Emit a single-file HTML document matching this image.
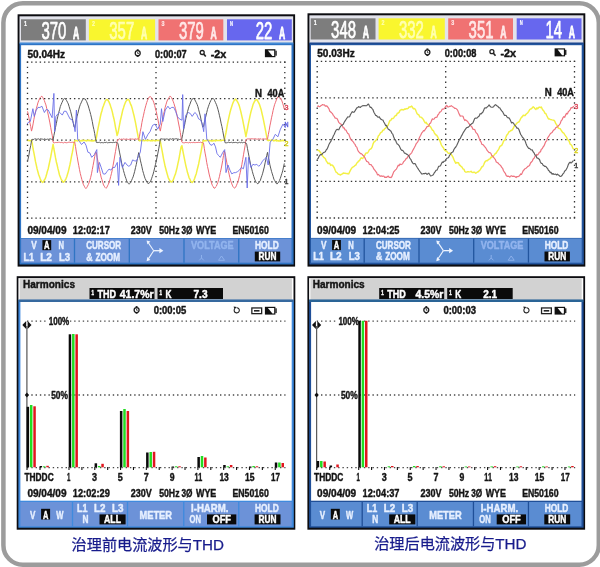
<!DOCTYPE html>
<html><head><meta charset="utf-8"><title>Harmonics</title>
<style>html,body{margin:0;padding:0;background:#fff;overflow:hidden}svg{display:block}</style></head>
<body>
<svg width="600" height="567" viewBox="0 0 600 567" font-family="'Liberation Sans', sans-serif">
<rect x="0.00" y="0.00" width="600.00" height="567.00" fill="#ffffff" />
<rect x="3.4" y="3.2" width="595.4" height="561.5" rx="19.5" ry="19.5" fill="#ffffff" stroke="#9c9c9c" stroke-width="4.5"/>
<rect x="17.60" y="14.30" width="277.50" height="252.30" fill="#0c0c10" />
<rect x="19.50" y="16.30" width="273.70" height="26.90" fill="#e2e3eb" />
<rect x="19.50" y="42.70" width="274.10" height="221.80" fill="#2f74c4" />
<rect x="19.50" y="42.70" width="273.70" height="1.00" fill="#4a94e0" />
<rect x="21.10" y="45.20" width="270.40" height="192.80" fill="#ffffff" />
<rect x="21.00" y="19.30" width="64.80" height="21.10" fill="#7d7d7d" />
<text x="41.40" y="39.00" font-size="24.6" font-weight="normal" fill="#ffffff" textLength="24.90" lengthAdjust="spacingAndGlyphs" stroke="#ffffff" stroke-width="0.75" stroke-linejoin="round" >370</text>
<text x="73.00" y="39.00" font-size="16.6" font-weight="bold" fill="#ffffff" textLength="6.20" lengthAdjust="spacingAndGlyphs" stroke="#ffffff" stroke-width="0.8" stroke-linejoin="round" >A</text>
<text x="24.00" y="25.60" font-size="7.5" font-weight="bold" fill="#ffffff" textLength="3.00" lengthAdjust="spacingAndGlyphs" stroke="#ffffff" stroke-width="0.2" stroke-linejoin="round" >1</text>
<rect x="88.90" y="19.30" width="66.20" height="21.10" fill="#f9f62e" />
<text x="109.30" y="39.00" font-size="24.6" font-weight="normal" fill="#ffffb0" textLength="24.90" lengthAdjust="spacingAndGlyphs" stroke="#ffffb0" stroke-width="0.75" stroke-linejoin="round" >357</text>
<text x="140.90" y="39.00" font-size="16.6" font-weight="bold" fill="#ffffb0" textLength="6.20" lengthAdjust="spacingAndGlyphs" stroke="#ffffb0" stroke-width="0.8" stroke-linejoin="round" >A</text>
<text x="91.90" y="25.60" font-size="7.5" font-weight="bold" fill="#ffffb0" textLength="3.00" lengthAdjust="spacingAndGlyphs" stroke="#ffffb0" stroke-width="0.2" stroke-linejoin="round" >2</text>
<rect x="158.50" y="19.30" width="64.80" height="21.10" fill="#f07272" />
<text x="178.90" y="39.00" font-size="24.6" font-weight="normal" fill="#ffe8e8" textLength="24.90" lengthAdjust="spacingAndGlyphs" stroke="#ffe8e8" stroke-width="0.75" stroke-linejoin="round" >379</text>
<text x="210.50" y="39.00" font-size="16.6" font-weight="bold" fill="#ffe8e8" textLength="6.20" lengthAdjust="spacingAndGlyphs" stroke="#ffe8e8" stroke-width="0.8" stroke-linejoin="round" >A</text>
<text x="161.50" y="25.60" font-size="7.5" font-weight="bold" fill="#ffe8e8" textLength="3.00" lengthAdjust="spacingAndGlyphs" stroke="#ffe8e8" stroke-width="0.2" stroke-linejoin="round" >3</text>
<rect x="227.00" y="19.30" width="64.80" height="21.10" fill="#6767ee" />
<text x="255.70" y="39.00" font-size="24.6" font-weight="normal" fill="#ffffff" textLength="16.60" lengthAdjust="spacingAndGlyphs" stroke="#ffffff" stroke-width="0.75" stroke-linejoin="round" >22</text>
<text x="279.00" y="39.00" font-size="16.6" font-weight="bold" fill="#ffffff" textLength="6.20" lengthAdjust="spacingAndGlyphs" stroke="#ffffff" stroke-width="0.8" stroke-linejoin="round" >A</text>
<text x="230.00" y="25.60" font-size="7.5" font-weight="bold" fill="#ffffff" textLength="3.00" lengthAdjust="spacingAndGlyphs" stroke="#ffffff" stroke-width="0.2" stroke-linejoin="round" >N</text>
<text x="27.50" y="58.00" font-size="11.2" font-weight="bold" fill="#151515" textLength="37.50" lengthAdjust="spacingAndGlyphs" stroke="#151515" stroke-width="0.45" stroke-linejoin="round" >50.04Hz</text>
<circle cx="137.70" cy="53.20" r="2.5" fill="#fff" stroke="#1a1a1a" stroke-width="1.25"/>
<rect x="136.75" y="49.30" width="1.90" height="1.30" fill="#1a1a1a" />
<rect x="136.75" y="55.80" width="1.90" height="1.10" fill="#1a1a1a" />
<path d="M137.70 51.90 V53.50 H138.80" stroke="#1a1a1a" stroke-width="0.8" fill="none"/>
<text x="155.00" y="58.00" font-size="11.2" font-weight="bold" fill="#151515" textLength="31.70" lengthAdjust="spacingAndGlyphs" stroke="#151515" stroke-width="0.45" stroke-linejoin="round" >0:00:07</text>
<circle cx="202.20" cy="52.50" r="2.0" fill="none" stroke="#222" stroke-width="1.3"/>
<line x1="203.70" y1="54.10" x2="205.80" y2="56.50" stroke="#222" stroke-width="1.6" />
<text x="210.70" y="58.00" font-size="11.2" font-weight="bold" fill="#151515" textLength="15.60" lengthAdjust="spacingAndGlyphs" stroke="#151515" stroke-width="0.45" stroke-linejoin="round" >-2x</text>
<rect x="264.90" y="49.20" width="10.50" height="8.00" fill="#111" />
<rect x="275.40" y="50.70" width="1.30" height="5.00" fill="#111" />
<polygon points="267.90,50.40 274.20,50.40 274.20,56.00 272.40,56.00" fill="#fff"/>
<line x1="26.80" y1="62.20" x2="285.50" y2="62.20" stroke="#333" stroke-width="1.3" stroke-dasharray="1.4 2.888"/>
<line x1="26.80" y1="98.60" x2="285.50" y2="98.60" stroke="#333" stroke-width="1.3" stroke-dasharray="1.4 2.888"/>
<line x1="26.80" y1="140.20" x2="285.50" y2="140.20" stroke="#333" stroke-width="1.3" stroke-dasharray="1.4 2.888"/>
<line x1="26.80" y1="181.80" x2="285.50" y2="181.80" stroke="#333" stroke-width="1.3" stroke-dasharray="1.4 2.888"/>
<line x1="26.80" y1="218.20" x2="285.50" y2="218.20" stroke="#333" stroke-width="1.3" stroke-dasharray="1.4 2.888"/>
<line x1="27.50" y1="61.50" x2="27.50" y2="218.90" stroke="#333" stroke-width="1.3" stroke-dasharray="1.4 3.8"/>
<line x1="156.00" y1="61.50" x2="156.00" y2="218.90" stroke="#333" stroke-width="1.3" stroke-dasharray="1.4 3.8"/>
<line x1="284.80" y1="61.50" x2="284.80" y2="218.90" stroke="#333" stroke-width="1.3" stroke-dasharray="1.4 3.8"/>
<g transform="translate(0.00,0.00)">
<polyline points="27.5,140.4 28.3,140.6 29.1,140.5 29.9,140.7 30.7,140.7 31.5,140.3 32.3,143.9 33.1,149.0 33.9,152.9 34.7,157.1 35.5,161.7 36.3,165.1 37.1,168.9 37.9,171.8 38.7,174.7 39.5,176.7 40.3,179.1 41.1,180.9 41.9,181.7 42.7,182.5 43.5,181.7 44.3,180.0 45.1,178.9 45.9,176.7 46.7,174.0 47.5,170.9 48.3,168.4 49.1,164.5 49.9,160.9 50.7,157.0 51.5,152.6 52.3,148.4 53.1,144.2 53.9,149.0 54.7,153.1 55.5,157.7 56.3,161.7 57.1,164.8 57.9,168.4 58.7,171.6 59.5,175.0 60.3,177.0 61.1,179.1 61.9,180.4 62.7,181.7 63.5,182.2 64.3,181.4 65.1,180.4 65.9,178.8 66.7,177.0 67.5,174.3 68.3,171.6 69.1,168.3 69.9,164.9 70.7,160.8 71.5,156.4 72.3,152.7 73.1,148.4 73.9,143.8 74.7,140.7 75.5,140.8 76.3,140.4 77.1,140.9 77.9,140.7 78.7,140.4 79.5,140.3 80.3,140.9 81.1,141.0 81.9,140.3 82.7,140.8 83.5,140.5 84.3,140.3 85.1,140.4 85.9,140.8 86.7,140.9 87.5,140.2 88.3,140.7 89.1,140.2 89.9,140.8 90.7,140.5 91.5,140.9 92.3,141.0 93.1,140.6 93.9,141.0 94.7,140.4 95.5,140.3 96.3,138.2 97.1,133.3 97.9,129.2 98.7,125.1 99.5,121.3 100.3,117.2 101.1,113.5 101.9,111.0 102.7,107.7 103.5,105.7 104.3,103.5 105.1,101.4 105.9,100.2 106.7,99.5 107.5,99.8 108.3,100.8 109.1,102.2 109.9,104.1 110.7,106.6 111.5,108.9 112.3,111.9 113.1,115.5 113.9,118.7 114.7,122.6 115.5,127.3 116.3,131.1 117.1,135.5 117.9,133.3 118.7,129.3 119.5,125.2 120.3,120.8 121.1,117.5 121.9,114.0 122.7,110.3 123.5,107.9 124.3,105.2 125.1,103.3 125.9,101.4 126.7,100.4 127.5,99.6 128.3,99.4 129.1,100.4 129.9,102.3 130.7,104.4 131.5,106.1 132.3,108.9 133.1,112.1 133.9,115.2 134.7,118.9 135.5,122.7 136.3,126.8 137.1,131.3 137.9,135.4 138.7,139.8 139.5,140.8 140.3,140.2 141.1,140.7 141.9,140.8 142.7,140.4 143.5,140.4 144.3,140.8 145.1,140.4 145.9,140.3 146.7,140.5 147.5,140.8 148.3,140.3 149.1,140.5 149.9,140.5 150.7,140.9 151.5,140.6 152.3,140.9 153.1,140.3 153.9,140.5 154.7,140.7 155.5,140.9 156.3,140.6 157.1,140.4 157.9,140.3 158.7,140.6 159.5,140.4 160.3,141.1 161.1,145.6 161.9,149.6 162.7,154.0 163.5,158.6 164.3,162.4 165.1,166.3 165.9,169.3 166.7,172.2 167.5,175.1 168.3,177.8 169.1,179.3 169.9,180.8 170.7,181.8 171.5,182.1 172.3,181.2 173.1,180.3 173.9,178.0 174.7,175.7 175.5,173.9 176.3,170.8 177.1,167.6 177.9,163.6 178.7,160.1 179.5,156.0 180.3,151.1 181.1,147.1 181.9,145.7 182.7,150.0 183.5,154.2 184.3,158.2 185.1,162.2 185.9,165.8 186.7,169.1 187.5,172.6 188.3,175.1 189.1,177.8 189.9,179.1 190.7,181.2 191.5,182.1 192.3,182.5 193.1,181.6 193.9,180.3 194.7,178.3 195.5,175.7 196.3,173.7 197.1,170.2 197.9,167.0 198.7,163.7 199.5,159.7 200.3,155.5 201.1,151.6 201.9,147.0 202.7,142.2 203.5,140.4 204.3,140.9 205.1,140.6 205.9,140.8 206.7,140.5 207.5,140.4 208.3,140.6 209.1,140.9 209.9,140.3 210.7,140.8 211.5,140.9 212.3,140.8 213.1,140.9 213.9,140.2 214.7,140.7 215.5,140.9 216.3,140.2 217.1,140.4 217.9,140.4 218.7,140.6 219.5,140.5 220.3,140.6 221.1,140.8 221.9,140.2 222.7,140.2 223.5,140.3 224.3,140.3 225.1,136.6 225.9,133.0 226.7,128.6 227.5,123.9 228.3,120.2 229.1,116.4 229.9,112.9 230.7,109.8 231.5,107.3 232.3,104.8 233.1,102.6 233.9,100.9 234.7,99.9 235.5,99.0 236.3,100.0 237.1,101.2 237.9,102.5 238.7,104.2 239.5,106.6 240.3,109.6 241.1,112.8 241.9,116.4 242.7,119.8 243.5,124.1 244.3,128.0 245.1,132.2 245.9,136.5 246.7,132.6 247.5,128.5 248.3,124.1 249.1,120.4 249.9,116.4 250.7,112.8 251.5,109.9 252.3,107.3 253.1,104.4 253.9,102.7 254.7,101.1 255.5,100.3 256.3,99.7 257.1,99.8 257.9,101.4 258.7,102.8 259.5,104.4 260.3,106.9 261.1,109.4 261.9,113.0 262.7,116.4 263.5,120.2 264.3,124.1 265.1,128.1 265.9,132.4 266.7,136.7 267.5,140.3 268.3,140.7 269.1,140.2 269.9,140.3 270.7,140.8 271.5,140.2 272.3,140.3 273.1,140.3 273.9,140.9 274.7,140.3 275.5,140.2 276.3,140.9 277.1,140.3 277.9,140.9 278.7,140.7 279.5,140.9 280.3,141.0 281.1,140.7 281.9,140.8 282.7,140.2 283.5,140.8 284.3,140.6" fill="none" stroke="#f3f045" stroke-width="1.5" stroke-linejoin="round" />
<polyline points="27.5,111.3 28.3,114.4 29.1,118.7 29.9,122.9 30.7,126.5 31.5,131.1 32.3,128.0 33.1,123.9 33.9,119.3 34.7,115.4 35.5,111.8 36.3,108.7 37.1,105.9 37.9,102.9 38.7,100.7 39.5,98.9 40.3,97.5 41.1,96.6 41.9,96.2 42.7,97.4 43.5,99.1 44.3,100.4 45.1,102.8 45.9,104.9 46.7,108.3 47.5,111.6 48.3,115.1 49.1,118.9 49.9,122.9 50.7,127.3 51.5,131.9 52.3,135.8 53.1,142.2 53.9,142.7 54.7,142.8 55.5,142.5 56.3,142.5 57.1,142.7 57.9,142.2 58.7,142.3 59.5,142.3 60.3,142.6 61.1,142.4 61.9,142.3 62.7,142.7 63.5,142.9 64.3,142.3 65.1,142.7 65.9,142.4 66.7,142.8 67.5,142.6 68.3,142.3 69.1,142.3 69.9,142.1 70.7,142.5 71.5,142.4 72.3,142.2 73.1,142.4 73.9,142.4 74.7,142.0 75.5,146.4 76.3,152.0 77.1,156.3 77.9,161.0 78.7,165.3 79.5,169.7 80.3,173.5 81.1,176.7 81.9,179.7 82.7,182.5 83.5,184.8 84.3,186.2 85.1,187.7 85.9,188.6 86.7,187.6 87.5,186.2 88.3,184.5 89.1,182.7 89.9,180.1 90.7,177.3 91.5,173.8 92.3,169.5 93.1,165.4 93.9,161.1 94.7,156.5 95.5,152.2 96.3,152.3 97.1,157.1 97.9,161.1 98.7,166.0 99.5,169.6 100.3,173.4 101.1,177.1 101.9,179.6 102.7,182.2 103.5,185.0 104.3,186.2 105.1,187.5 105.9,188.3 106.7,187.7 107.5,185.9 108.3,184.4 109.1,182.3 109.9,179.7 110.7,176.4 111.5,173.3 112.3,169.8 113.1,165.2 113.9,161.0 114.7,156.0 115.5,151.4 116.3,146.8 117.1,141.4 117.9,139.4 118.7,139.4 119.5,138.8 120.3,139.5 121.1,139.0 121.9,139.3 122.7,139.3 123.5,138.9 124.3,139.2 125.1,139.2 125.9,139.3 126.7,138.9 127.5,139.3 128.3,139.5 129.1,139.2 129.9,139.1 130.7,138.8 131.5,139.1 132.3,139.0 133.1,139.3 133.9,139.2 134.7,139.2 135.5,138.8 136.3,139.2 137.1,139.2 137.9,138.8 138.7,139.4 139.5,136.3 140.3,131.3 141.1,127.6 141.9,122.6 142.7,118.7 143.5,115.2 144.3,111.5 145.1,108.2 145.9,105.3 146.7,102.6 147.5,100.3 148.3,98.5 149.1,97.1 149.9,96.7 150.7,96.8 151.5,97.6 152.3,99.2 153.1,100.7 153.9,102.8 154.7,105.6 155.5,108.9 156.3,111.6 157.1,115.6 157.9,119.3 158.7,123.8 159.5,127.8 160.3,131.1 161.1,126.8 161.9,122.6 162.7,118.7 163.5,114.6 164.3,111.4 165.1,107.6 165.9,104.8 166.7,102.1 167.5,100.0 168.3,98.8 169.1,97.5 169.9,96.2 170.7,96.5 171.5,97.6 172.3,99.3 173.1,101.2 173.9,103.4 174.7,106.0 175.5,108.6 176.3,112.2 177.1,115.7 177.9,119.9 178.7,124.0 179.5,128.1 180.3,132.5 181.1,137.5 181.9,142.1 182.7,142.7 183.5,142.8 184.3,142.9 185.1,142.4 185.9,142.5 186.7,142.6 187.5,142.6 188.3,142.9 189.1,142.6 189.9,142.3 190.7,142.8 191.5,142.5 192.3,142.6 193.1,142.7 193.9,142.1 194.7,142.7 195.5,142.6 196.3,142.5 197.1,142.5 197.9,142.5 198.7,142.3 199.5,142.5 200.3,142.1 201.1,142.5 201.9,142.6 202.7,142.5 203.5,143.0 204.3,148.3 205.1,153.1 205.9,157.2 206.7,162.3 207.5,166.5 208.3,170.0 209.1,174.0 209.9,177.2 210.7,180.1 211.5,183.0 212.3,185.3 213.1,186.5 213.9,188.0 214.7,188.3 215.5,187.0 216.3,186.3 217.1,184.3 217.9,182.3 218.7,179.4 219.5,176.3 220.3,172.5 221.1,169.0 221.9,165.0 222.7,160.5 223.5,155.5 224.3,151.0 225.1,153.2 225.9,157.6 226.7,162.1 227.5,166.4 228.3,170.5 229.1,174.1 229.9,177.7 230.7,180.8 231.5,183.1 232.3,185.1 233.1,186.8 233.9,187.7 234.7,188.1 235.5,187.4 236.3,185.8 237.1,183.8 237.9,182.0 238.7,179.1 239.5,175.7 240.3,172.2 241.1,168.4 241.9,164.3 242.7,159.6 243.5,154.8 244.3,150.1 245.1,145.7 245.9,140.2 246.7,139.1 247.5,138.9 248.3,138.9 249.1,138.8 249.9,139.0 250.7,138.8 251.5,138.7 252.3,138.8 253.1,138.8 253.9,139.1 254.7,138.7 255.5,138.7 256.3,139.1 257.1,139.0 257.9,139.3 258.7,138.7 259.5,139.0 260.3,139.0 261.1,138.7 261.9,139.5 262.7,138.9 263.5,138.8 264.3,139.1 265.1,138.8 265.9,139.2 266.7,139.0 267.5,139.2 268.3,134.6 269.1,130.7 269.9,125.9 270.7,122.1 271.5,117.8 272.3,114.4 273.1,110.4 273.9,107.2 274.7,104.3 275.5,102.3 276.3,100.1 277.1,98.2 277.9,96.8 278.7,96.5 279.5,97.2 280.3,98.0 281.1,99.0 281.9,100.9 282.7,103.3 283.5,106.1 284.3,109.1" fill="none" stroke="#ee6a74" stroke-width="1.0" stroke-linejoin="round" />
<polyline points="27.5,161.4 28.3,158.0 29.1,154.1 29.9,149.3 30.7,145.6 31.5,140.8 32.3,139.3 33.1,139.4 33.9,139.5 34.7,138.7 35.5,138.9 36.3,139.2 37.1,139.5 37.9,138.8 38.7,138.9 39.5,139.4 40.3,138.8 41.1,139.0 41.9,139.0 42.7,139.2 43.5,139.4 44.3,138.8 45.1,139.3 45.9,139.3 46.7,139.4 47.5,139.1 48.3,139.4 49.1,139.0 49.9,139.0 50.7,138.9 51.5,139.3 52.3,139.1 53.1,139.8 53.9,135.5 54.7,131.7 55.5,127.5 56.3,123.7 57.1,119.6 57.9,116.1 58.7,112.5 59.5,109.9 60.3,106.6 61.1,104.6 61.9,102.7 62.7,101.0 63.5,99.2 64.3,98.5 65.1,98.7 65.9,99.4 66.7,100.7 67.5,102.3 68.3,103.9 69.1,106.5 69.9,109.1 70.7,111.7 71.5,115.0 72.3,118.3 73.1,122.2 73.9,126.6 74.7,127.6 75.5,124.0 76.3,119.8 77.1,116.2 77.9,113.3 78.7,109.9 79.5,106.9 80.3,104.6 81.1,102.9 81.9,101.1 82.7,99.3 83.5,98.5 84.3,98.8 85.1,98.9 85.9,100.3 86.7,101.7 87.5,103.9 88.3,106.0 89.1,108.8 89.9,111.5 90.7,114.5 91.5,117.9 92.3,121.6 93.1,126.1 93.9,129.5 94.7,133.6 95.5,138.6 96.3,142.3 97.1,142.8 97.9,142.2 98.7,142.5 99.5,142.3 100.3,142.8 101.1,142.6 101.9,142.6 102.7,142.7 103.5,142.8 104.3,142.4 105.1,142.6 105.9,142.5 106.7,142.2 107.5,142.8 108.3,142.6 109.1,142.8 109.9,142.3 110.7,142.5 111.5,142.5 112.3,142.7 113.1,142.2 113.9,142.4 114.7,142.5 115.5,142.2 116.3,142.5 117.1,142.7 117.9,143.3 118.7,147.9 119.5,152.1 120.3,156.0 121.1,160.1 121.9,164.4 122.7,167.4 123.5,170.7 124.3,173.4 125.1,176.2 125.9,178.4 126.7,180.9 127.5,182.2 128.3,183.4 129.1,184.2 129.9,183.3 130.7,182.5 131.5,180.7 132.3,178.7 133.1,176.9 133.9,174.2 134.7,171.3 135.5,167.7 136.3,164.4 137.1,160.3 137.9,156.8 138.7,152.6 139.5,155.6 140.3,160.1 141.1,163.3 141.9,166.8 142.7,170.6 143.5,173.3 144.3,176.1 145.1,178.5 145.9,180.0 146.7,182.1 147.5,182.8 148.3,183.7 149.1,183.1 149.9,182.4 150.7,181.0 151.5,178.8 152.3,176.5 153.1,174.1 153.9,171.2 154.7,167.7 155.5,164.3 156.3,161.0 157.1,157.0 157.9,153.1 158.7,148.9 159.5,144.4 160.3,139.0 161.1,138.8 161.9,138.9 162.7,139.1 163.5,139.1 164.3,139.1 165.1,139.0 165.9,139.4 166.7,138.9 167.5,139.1 168.3,139.4 169.1,139.3 169.9,138.9 170.7,138.9 171.5,139.3 172.3,138.7 173.1,138.8 173.9,139.1 174.7,139.1 175.5,138.8 176.3,138.7 177.1,138.9 177.9,139.3 178.7,139.1 179.5,139.5 180.3,139.3 181.1,139.5 181.9,138.5 182.7,134.4 183.5,130.1 184.3,126.4 185.1,122.4 185.9,118.4 186.7,115.3 187.5,111.7 188.3,108.9 189.1,106.2 189.9,104.3 190.7,102.0 191.5,100.3 192.3,98.9 193.1,98.4 193.9,98.7 194.7,99.6 195.5,101.1 196.3,102.7 197.1,104.3 197.9,106.6 198.7,109.8 199.5,112.9 200.3,116.0 201.1,119.8 201.9,123.3 202.7,127.1 203.5,126.6 204.3,122.6 205.1,119.3 205.9,116.0 206.7,112.7 207.5,109.3 208.3,106.8 209.1,104.6 209.9,102.5 210.7,100.7 211.5,99.3 212.3,98.6 213.1,98.3 213.9,99.1 214.7,100.8 215.5,102.6 216.3,104.3 217.1,106.5 217.9,109.2 218.7,112.2 219.5,115.8 220.3,119.1 221.1,123.2 221.9,126.5 222.7,130.7 223.5,135.0 224.3,139.2 225.1,142.8 225.9,142.8 226.7,142.8 227.5,142.6 228.3,142.1 229.1,142.6 229.9,142.5 230.7,142.5 231.5,142.3 232.3,142.7 233.1,142.8 233.9,142.2 234.7,142.6 235.5,142.4 236.3,142.5 237.1,142.8 237.9,142.9 238.7,142.6 239.5,142.3 240.3,142.8 241.1,142.2 241.9,142.4 242.7,142.8 243.5,142.4 244.3,142.3 245.1,142.9 245.9,142.9 246.7,144.3 247.5,148.7 248.3,152.9 249.1,156.9 249.9,160.9 250.7,165.3 251.5,168.0 252.3,171.3 253.1,174.2 253.9,176.7 254.7,179.2 255.5,181.2 256.3,182.6 257.1,183.4 257.9,183.9 258.7,182.5 259.5,181.6 260.3,180.6 261.1,177.9 261.9,175.7 262.7,173.2 263.5,170.0 264.3,166.9 265.1,162.9 265.9,159.2 266.7,155.7 267.5,152.3 268.3,157.1 269.1,160.4 269.9,164.9 270.7,168.1 271.5,171.3 272.3,173.9 273.1,176.4 273.9,179.2 274.7,180.5 275.5,182.0 276.3,183.5 277.1,184.0 277.9,182.7 278.7,182.3 279.5,180.4 280.3,178.4 281.1,175.9 281.9,173.4 282.7,170.9 283.5,167.1 284.3,163.4" fill="none" stroke="#5a5a5a" stroke-width="1.0" stroke-linejoin="round" />
<polyline points="27.0,124.1 28.7,122.0 30.3,121.5 32.9,108.7 34.2,116.4 36.1,110.4 38.0,107.4 39.9,107.5 41.9,106.2 44.4,112.5 46.3,109.4 48.2,110.0 50.2,114.0 52.1,117.7 53.9,93.4 54.6,131.7 55.9,116.4 57.8,113.9 59.8,112.5 62.3,115.1 64.2,111.2 66.2,111.3 68.1,115.1 70.0,118.9 71.9,119.5 73.8,124.1 75.1,131.7 76.4,110.0 77.7,139.4 79.6,141.7 81.5,144.5 84.1,142.0 86.0,145.2 87.9,152.2 89.8,152.9 91.7,157.3 94.3,154.7 96.8,149.6 97.4,172.6 99.4,162.4 101.3,167.8 103.2,173.9 105.2,174.1 107.1,171.4 109.0,169.1 110.9,170.1 112.8,167.6 114.7,167.5 117.3,162.4 118.6,185.4 119.9,157.3 122.4,167.5 125.0,162.4 126.9,164.9 128.8,166.3 130.7,165.0 132.6,159.9 134.6,160.8 136.5,161.1 138.4,156.2 140.3,152.2 141.6,142.0 142.9,131.7 145.4,139.4 148.0,134.3 150.0,131.7 152.6,125.3 155.1,124.1 157.7,129.2 160.2,124.1 161.5,108.7 162.8,121.5 165.3,110.0 167.9,106.2 169.8,108.9 171.7,107.4 173.7,107.4 175.6,111.3 177.5,116.7 179.4,118.9 182.0,120.2 182.7,94.6 183.5,129.2 185.8,115.1 188.4,112.5 190.3,113.5 192.2,116.4 194.8,112.5 196.7,114.2 198.6,118.9 200.5,119.8 202.4,124.1 203.7,131.7 205.0,113.8 206.8,139.4 208.4,141.1 210.1,144.5 212.0,145.3 213.9,143.2 215.5,146.9 217.0,153.5 218.7,155.7 220.3,157.3 222.9,152.2 224.7,149.6 226.0,172.6 228.0,165.0 229.9,170.1 231.8,173.9 233.8,172.7 235.7,172.6 237.6,171.6 239.5,170.1 241.4,167.5 243.4,168.8 245.9,157.3 247.2,188.0 248.5,157.3 251.0,167.5 252.9,164.3 254.9,165.0 256.8,164.3 258.7,166.3 260.6,164.5 262.5,161.1 264.5,158.9 266.4,157.3 268.2,165.0 270.2,142.0 272.8,139.4 275.3,134.3 277.9,136.8 280.4,129.2 283.0,124.1 285.5,127.9" fill="none" stroke="#6a6ee8" stroke-width="0.9" stroke-linejoin="round" />
<text x="284.50" y="110.00" font-size="6.5" font-weight="normal" fill="#e05060" textLength="4.00" lengthAdjust="spacingAndGlyphs" stroke="#e05060" stroke-width="0.45" stroke-linejoin="round" >3</text>
<text x="284.50" y="127.00" font-size="6.5" font-weight="normal" fill="#5b5fe0" textLength="4.00" lengthAdjust="spacingAndGlyphs" stroke="#5b5fe0" stroke-width="0.45" stroke-linejoin="round" >N</text>
<text x="284.50" y="146.00" font-size="6.5" font-weight="normal" fill="#d8d020" textLength="4.00" lengthAdjust="spacingAndGlyphs" stroke="#d8d020" stroke-width="0.45" stroke-linejoin="round" >2</text>
<text x="284.50" y="184.00" font-size="6.5" font-weight="normal" fill="#444" textLength="4.00" lengthAdjust="spacingAndGlyphs" stroke="#444" stroke-width="0.45" stroke-linejoin="round" >1</text>
</g>
<text x="255.00" y="97.00" font-size="11.2" font-weight="bold" fill="#151515" textLength="7.00" lengthAdjust="spacingAndGlyphs" stroke="#151515" stroke-width="0.45" stroke-linejoin="round" >N</text>
<text x="267.50" y="97.00" font-size="11.2" font-weight="bold" fill="#151515" textLength="16.80" lengthAdjust="spacingAndGlyphs" stroke="#151515" stroke-width="0.45" stroke-linejoin="round" >40A</text>
<text x="27.40" y="234.25" font-size="11.2" font-weight="bold" fill="#151515" textLength="39.10" lengthAdjust="spacingAndGlyphs" stroke="#151515" stroke-width="0.45" stroke-linejoin="round" >09/04/09</text>
<text x="72.80" y="234.25" font-size="11.2" font-weight="bold" fill="#151515" textLength="37.00" lengthAdjust="spacingAndGlyphs" stroke="#151515" stroke-width="0.45" stroke-linejoin="round" >12:02:17</text>
<text x="130.70" y="234.25" font-size="11.2" font-weight="bold" fill="#151515" textLength="21.00" lengthAdjust="spacingAndGlyphs" stroke="#151515" stroke-width="0.45" stroke-linejoin="round" >230V</text>
<text x="159.20" y="234.25" font-size="11.2" font-weight="bold" fill="#151515" textLength="20.30" lengthAdjust="spacingAndGlyphs" stroke="#151515" stroke-width="0.45" stroke-linejoin="round" >50Hz</text>
<text x="181.50" y="234.25" font-size="11.2" font-weight="bold" fill="#151515" textLength="11.00" lengthAdjust="spacingAndGlyphs" stroke="#151515" stroke-width="0.45" stroke-linejoin="round" >3Ø</text>
<text x="196.00" y="234.25" font-size="11.2" font-weight="bold" fill="#151515" textLength="20.30" lengthAdjust="spacingAndGlyphs" stroke="#151515" stroke-width="0.45" stroke-linejoin="round" >WYE</text>
<text x="232.50" y="234.25" font-size="11.2" font-weight="bold" fill="#151515" textLength="36.30" lengthAdjust="spacingAndGlyphs" stroke="#151515" stroke-width="0.45" stroke-linejoin="round" >EN50160</text>
<rect x="21.10" y="238.60" width="270.40" height="24.10" fill="#6c92d8" />
<line x1="74.50" y1="238.60" x2="74.50" y2="262.70" stroke="#2f74c4" stroke-width="1.3" />
<line x1="129.30" y1="238.60" x2="129.30" y2="262.70" stroke="#2f74c4" stroke-width="1.3" />
<line x1="184.00" y1="238.60" x2="184.00" y2="262.70" stroke="#2f74c4" stroke-width="1.3" />
<line x1="238.75" y1="238.60" x2="238.75" y2="262.70" stroke="#2f74c4" stroke-width="1.3" />
<text x="31.20" y="249.30" font-size="10.4" font-weight="bold" fill="#e6efff" textLength="5.50" lengthAdjust="spacingAndGlyphs" stroke="#e6efff" stroke-width="0.45" stroke-linejoin="round" >V</text>
<rect x="42.40" y="240.10" width="8.80" height="10.10" fill="#0a0a0a" />
<text x="44.10" y="249.30" font-size="10.4" font-weight="bold" fill="#ffffff" textLength="5.50" lengthAdjust="spacingAndGlyphs" stroke="#ffffff" stroke-width="0.45" stroke-linejoin="round" >A</text>
<text x="58.50" y="249.30" font-size="10.4" font-weight="bold" fill="#e6efff" textLength="5.50" lengthAdjust="spacingAndGlyphs" stroke="#e6efff" stroke-width="0.45" stroke-linejoin="round" >N</text>
<text x="23.50" y="260.50" font-size="10.4" font-weight="bold" fill="#e6efff" textLength="10.70" lengthAdjust="spacingAndGlyphs" stroke="#e6efff" stroke-width="0.45" stroke-linejoin="round" >L1</text>
<text x="40.20" y="260.50" font-size="10.4" font-weight="bold" fill="#e6efff" textLength="11.80" lengthAdjust="spacingAndGlyphs" stroke="#e6efff" stroke-width="0.45" stroke-linejoin="round" >L2</text>
<text x="59.00" y="260.50" font-size="10.4" font-weight="bold" fill="#e6efff" textLength="11.20" lengthAdjust="spacingAndGlyphs" stroke="#e6efff" stroke-width="0.45" stroke-linejoin="round" >L3</text>
<text x="86.20" y="249.30" font-size="10.4" font-weight="bold" fill="#e6efff" textLength="35.00" lengthAdjust="spacingAndGlyphs" stroke="#e6efff" stroke-width="0.45" stroke-linejoin="round" >CURSOR</text>
<text x="86.20" y="260.50" font-size="10.4" font-weight="bold" fill="#e6efff" textLength="6.30" lengthAdjust="spacingAndGlyphs" stroke="#e6efff" stroke-width="0.45" stroke-linejoin="round" >&amp;</text>
<text x="95.50" y="260.50" font-size="10.4" font-weight="bold" fill="#e6efff" textLength="24.50" lengthAdjust="spacingAndGlyphs" stroke="#e6efff" stroke-width="0.45" stroke-linejoin="round" >ZOOM</text>
<line x1="153.70" y1="250.70" x2="148.50" y2="243.00" stroke="#eef4ff" stroke-width="1.1" />
<line x1="153.70" y1="250.70" x2="148.50" y2="258.60" stroke="#eef4ff" stroke-width="1.1" />
<line x1="153.70" y1="250.70" x2="160.00" y2="250.70" stroke="#eef4ff" stroke-width="1.3" />
<polygon points="146.60,240.60 150.40,241.60 147.40,244.60" fill="#eef4ff"/>
<polygon points="146.60,261.20 150.40,260.00 147.40,257.00" fill="#eef4ff"/>
<polygon points="163.40,250.70 159.40,248.10 159.40,253.30" fill="#eef4ff"/>
<text x="191.00" y="249.30" font-size="10.4" font-weight="bold" fill="#92b4ee" textLength="42.70" lengthAdjust="spacingAndGlyphs" stroke="#92b4ee" stroke-width="0.45" stroke-linejoin="round" >VOLTAGE</text>
<path d="M201.50 255.00 v3 l-2.3 2.4 m2.3 -2.4 l2.3 2.4" stroke="#92b4ee" stroke-width="0.9" fill="none"/>
<path d="M221.50 256.00 l-3 4.3 h6 z" stroke="#92b4ee" stroke-width="0.9" fill="none"/>
<text x="255.00" y="249.30" font-size="10.4" font-weight="bold" fill="#e6efff" textLength="23.70" lengthAdjust="spacingAndGlyphs" stroke="#e6efff" stroke-width="0.45" stroke-linejoin="round" >HOLD</text>
<rect x="254.80" y="251.60" width="25.40" height="9.80" fill="#0a0a0a" />
<text x="258.50" y="260.30" font-size="10.4" font-weight="bold" fill="#ffffff" textLength="18.00" lengthAdjust="spacingAndGlyphs" stroke="#ffffff" stroke-width="0.45" stroke-linejoin="round" >RUN</text>
<rect x="307.50" y="13.30" width="277.80" height="253.30" fill="#0c0c10" />
<rect x="309.40" y="15.31" width="274.00" height="27.89" fill="#e2e3eb" />
<rect x="309.40" y="42.70" width="274.40" height="221.79" fill="#22559f" />
<rect x="309.40" y="42.70" width="274.00" height="1.00" fill="#1b4488" />
<rect x="311.00" y="45.20" width="270.70" height="192.69" fill="#ffffff" />
<rect x="310.70" y="18.32" width="64.80" height="21.18" fill="#7d7d7d" />
<text x="331.10" y="38.10" font-size="24.6" font-weight="normal" fill="#ffffff" textLength="24.90" lengthAdjust="spacingAndGlyphs" stroke="#ffffff" stroke-width="0.75" stroke-linejoin="round" >348</text>
<text x="362.70" y="38.10" font-size="16.6" font-weight="bold" fill="#ffffff" textLength="6.20" lengthAdjust="spacingAndGlyphs" stroke="#ffffff" stroke-width="0.8" stroke-linejoin="round" >A</text>
<text x="313.70" y="24.65" font-size="7.5" font-weight="bold" fill="#ffffff" textLength="3.00" lengthAdjust="spacingAndGlyphs" stroke="#ffffff" stroke-width="0.2" stroke-linejoin="round" >1</text>
<rect x="378.60" y="18.32" width="66.20" height="21.18" fill="#f9f62e" />
<text x="399.00" y="38.10" font-size="24.6" font-weight="normal" fill="#ffffb0" textLength="24.90" lengthAdjust="spacingAndGlyphs" stroke="#ffffb0" stroke-width="0.75" stroke-linejoin="round" >332</text>
<text x="430.60" y="38.10" font-size="16.6" font-weight="bold" fill="#ffffb0" textLength="6.20" lengthAdjust="spacingAndGlyphs" stroke="#ffffb0" stroke-width="0.8" stroke-linejoin="round" >A</text>
<text x="381.60" y="24.65" font-size="7.5" font-weight="bold" fill="#ffffb0" textLength="3.00" lengthAdjust="spacingAndGlyphs" stroke="#ffffb0" stroke-width="0.2" stroke-linejoin="round" >2</text>
<rect x="448.20" y="18.32" width="64.80" height="21.18" fill="#f07272" />
<text x="468.60" y="38.10" font-size="24.6" font-weight="normal" fill="#ffe8e8" textLength="24.90" lengthAdjust="spacingAndGlyphs" stroke="#ffe8e8" stroke-width="0.75" stroke-linejoin="round" >351</text>
<text x="500.20" y="38.10" font-size="16.6" font-weight="bold" fill="#ffe8e8" textLength="6.20" lengthAdjust="spacingAndGlyphs" stroke="#ffe8e8" stroke-width="0.8" stroke-linejoin="round" >A</text>
<text x="451.20" y="24.65" font-size="7.5" font-weight="bold" fill="#ffe8e8" textLength="3.00" lengthAdjust="spacingAndGlyphs" stroke="#ffe8e8" stroke-width="0.2" stroke-linejoin="round" >3</text>
<rect x="516.70" y="18.32" width="64.80" height="21.18" fill="#6767ee" />
<text x="545.40" y="38.10" font-size="24.6" font-weight="normal" fill="#ffffff" textLength="16.60" lengthAdjust="spacingAndGlyphs" stroke="#ffffff" stroke-width="0.75" stroke-linejoin="round" >14</text>
<text x="568.70" y="38.10" font-size="16.6" font-weight="bold" fill="#ffffff" textLength="6.20" lengthAdjust="spacingAndGlyphs" stroke="#ffffff" stroke-width="0.8" stroke-linejoin="round" >A</text>
<text x="519.70" y="24.65" font-size="7.5" font-weight="bold" fill="#ffffff" textLength="3.00" lengthAdjust="spacingAndGlyphs" stroke="#ffffff" stroke-width="0.2" stroke-linejoin="round" >N</text>
<text x="317.20" y="57.17" font-size="11.2" font-weight="bold" fill="#151515" textLength="37.50" lengthAdjust="spacingAndGlyphs" stroke="#151515" stroke-width="0.45" stroke-linejoin="round" >50.03Hz</text>
<circle cx="427.40" cy="52.36" r="2.5" fill="#fff" stroke="#1a1a1a" stroke-width="1.25"/>
<rect x="426.45" y="48.46" width="1.90" height="1.30" fill="#1a1a1a" />
<rect x="426.45" y="54.96" width="1.90" height="1.10" fill="#1a1a1a" />
<path d="M427.40 51.06 V52.66 H428.50" stroke="#1a1a1a" stroke-width="0.8" fill="none"/>
<text x="444.70" y="57.17" font-size="11.2" font-weight="bold" fill="#151515" textLength="31.70" lengthAdjust="spacingAndGlyphs" stroke="#151515" stroke-width="0.45" stroke-linejoin="round" >0:00:08</text>
<circle cx="491.90" cy="51.65" r="2.0" fill="none" stroke="#222" stroke-width="1.3"/>
<line x1="493.40" y1="53.26" x2="495.50" y2="55.67" stroke="#222" stroke-width="1.6" />
<text x="500.40" y="57.17" font-size="11.2" font-weight="bold" fill="#151515" textLength="15.60" lengthAdjust="spacingAndGlyphs" stroke="#151515" stroke-width="0.45" stroke-linejoin="round" >-2x</text>
<rect x="554.60" y="48.34" width="10.50" height="8.03" fill="#111" />
<rect x="565.10" y="49.84" width="1.30" height="5.03" fill="#111" />
<polygon points="557.60,49.54 563.90,49.54 563.90,55.17 562.10,55.17" fill="#fff"/>
<line x1="316.50" y1="61.39" x2="575.20" y2="61.39" stroke="#333" stroke-width="1.3" stroke-dasharray="1.4 2.888"/>
<line x1="316.50" y1="97.94" x2="575.20" y2="97.94" stroke="#333" stroke-width="1.3" stroke-dasharray="1.4 2.888"/>
<line x1="316.50" y1="139.70" x2="575.20" y2="139.70" stroke="#333" stroke-width="1.3" stroke-dasharray="1.4 2.888"/>
<line x1="316.50" y1="181.47" x2="575.20" y2="181.47" stroke="#333" stroke-width="1.3" stroke-dasharray="1.4 2.888"/>
<line x1="316.50" y1="218.01" x2="575.20" y2="218.01" stroke="#333" stroke-width="1.3" stroke-dasharray="1.4 2.888"/>
<line x1="317.20" y1="60.69" x2="317.20" y2="218.71" stroke="#333" stroke-width="1.3" stroke-dasharray="1.4 3.8"/>
<line x1="445.70" y1="60.69" x2="445.70" y2="218.71" stroke="#333" stroke-width="1.3" stroke-dasharray="1.4 3.8"/>
<line x1="574.50" y1="60.69" x2="574.50" y2="218.71" stroke="#333" stroke-width="1.3" stroke-dasharray="1.4 3.8"/>
<g transform="translate(289.70,-0.50)">
<polyline points="27.5,150.3 28.4,151.0 29.3,150.9 30.2,152.3 31.1,153.4 32.0,154.4 32.9,156.4 33.8,157.5 34.7,158.4 35.6,159.0 36.5,161.4 37.4,162.6 38.3,164.1 39.2,163.7 40.1,164.0 41.0,165.9 41.9,165.4 42.8,165.6 43.7,167.0 44.6,168.4 45.5,170.7 46.4,172.7 47.3,173.1 48.2,174.4 49.1,174.9 50.0,175.0 50.9,175.5 51.8,174.7 52.7,174.4 53.6,173.4 54.5,173.7 55.4,173.7 56.3,174.1 57.2,174.0 58.1,174.3 59.0,174.4 59.9,172.5 60.8,170.6 61.7,169.2 62.6,167.9 63.5,167.4 64.4,166.8 65.3,165.9 66.2,165.5 67.1,163.5 68.0,162.9 68.9,161.4 69.8,161.2 70.7,159.4 71.6,158.3 72.5,159.0 73.4,158.6 74.3,156.4 75.2,155.6 76.1,153.6 77.0,153.4 77.9,153.5 78.8,152.0 79.7,150.2 80.6,149.7 81.5,149.1 82.4,147.6 83.3,144.6 84.2,142.5 85.1,142.1 86.0,140.9 86.9,140.0 87.8,138.9 88.7,136.2 89.6,135.5 90.5,133.8 91.4,132.8 92.3,132.4 93.2,130.7 94.1,130.6 95.0,129.1 95.9,128.8 96.8,127.5 97.7,126.6 98.6,125.4 99.5,122.6 100.4,120.9 101.3,120.6 102.2,118.9 103.1,119.1 104.0,118.5 104.9,116.9 105.8,116.0 106.7,116.1 107.6,113.8 108.5,113.6 109.4,112.9 110.3,110.9 111.2,110.4 112.1,110.0 113.0,110.2 113.9,110.4 114.8,109.5 115.7,109.7 116.6,109.1 117.5,109.2 118.4,108.9 119.3,107.5 120.2,107.5 121.1,107.3 122.0,106.6 122.9,108.0 123.8,109.3 124.7,109.0 125.6,109.7 126.5,112.1 127.4,114.3 128.3,115.0 129.2,115.4 130.1,117.6 131.0,117.6 131.9,117.9 132.8,118.9 133.7,120.2 134.6,121.9 135.5,123.5 136.4,122.8 137.3,124.4 138.2,124.8 139.1,126.4 140.0,126.5 140.9,127.4 141.8,129.0 142.7,130.7 143.6,130.9 144.5,133.1 145.4,134.6 146.3,135.5 147.2,136.0 148.1,137.6 149.0,139.9 149.9,140.5 150.8,143.0 151.7,145.5 152.6,147.0 153.5,148.0 154.4,149.8 155.3,151.0 156.2,151.6 157.1,151.8 158.0,153.2 158.9,153.9 159.8,153.6 160.7,153.7 161.6,155.0 162.5,156.3 163.4,157.9 164.3,160.2 165.2,162.2 166.1,163.8 167.0,163.0 167.9,163.3 168.8,163.2 169.7,165.5 170.6,166.0 171.5,167.1 172.4,167.7 173.3,169.5 174.2,169.6 175.1,172.0 176.0,172.6 176.9,172.6 177.8,172.3 178.7,172.3 179.6,172.4 180.5,172.2 181.4,171.8 182.3,172.9 183.2,173.0 184.1,172.8 185.0,172.8 185.9,173.7 186.8,173.3 187.7,172.5 188.6,172.2 189.5,171.2 190.4,170.5 191.3,168.9 192.2,167.3 193.1,167.0 194.0,165.2 194.9,163.0 195.8,161.8 196.7,161.1 197.6,161.3 198.5,160.3 199.4,159.7 200.3,159.3 201.2,157.7 202.1,158.0 203.0,156.3 203.9,156.5 204.8,155.0 205.7,154.0 206.6,153.5 207.5,151.7 208.4,150.6 209.3,149.1 210.2,146.9 211.1,146.3 212.0,145.8 212.9,144.2 213.8,141.8 214.7,140.8 215.6,139.7 216.5,136.9 217.4,135.2 218.3,134.2 219.2,132.3 220.1,132.1 221.0,130.9 221.9,130.9 222.8,130.1 223.7,128.4 224.6,126.6 225.5,125.1 226.4,124.7 227.3,123.5 228.2,122.9 229.1,122.5 230.0,121.1 230.9,119.2 231.8,117.9 232.7,117.1 233.6,115.7 234.5,116.0 235.4,116.0 236.3,114.8 237.2,114.0 238.1,113.2 239.0,111.8 239.9,110.3 240.8,109.5 241.7,109.4 242.6,108.2 243.5,107.3 244.4,108.0 245.3,109.2 246.2,110.0 247.1,108.4 248.0,109.2 248.9,108.0 249.8,107.6 250.7,108.1 251.6,107.5 252.5,109.4 253.4,110.8 254.3,111.7 255.2,113.8 256.1,114.0 257.0,116.0 257.9,117.8 258.8,119.4 259.7,119.4 260.6,120.0 261.5,120.1 262.4,120.4 263.3,120.6 264.2,120.7 265.1,121.8 266.0,124.0 266.9,125.1 267.8,126.8 268.7,128.6 269.6,129.0 270.5,129.1 271.4,130.7 272.3,132.0 273.2,133.2 274.1,133.7 275.0,135.1 275.9,136.4 276.8,137.6 277.7,139.7 278.6,140.8 279.5,141.7 280.4,144.6 281.3,145.1 282.2,146.2 283.1,148.6 284.0,149.7" fill="none" stroke="#f3f045" stroke-width="1.45" stroke-linejoin="round" />
<polyline points="27.5,107.2 28.4,106.3 29.3,107.1 30.2,107.1 31.1,106.3 32.0,105.8 32.9,105.0 33.8,105.5 34.7,105.4 35.6,106.6 36.5,106.4 37.4,106.6 38.3,107.8 39.2,109.1 40.1,111.8 41.0,112.5 41.9,113.3 42.8,114.2 43.7,116.1 44.6,116.9 45.5,118.7 46.4,118.7 47.3,119.0 48.2,120.8 49.1,122.9 50.0,123.8 50.9,124.5 51.8,124.9 52.7,126.2 53.6,128.5 54.5,128.4 55.4,130.5 56.3,130.5 57.2,132.5 58.1,134.0 59.0,134.4 59.9,137.0 60.8,139.2 61.7,140.5 62.6,141.4 63.5,142.3 64.4,143.8 65.3,144.8 66.2,146.9 67.1,147.6 68.0,150.5 68.9,152.2 69.8,152.9 70.7,154.1 71.6,154.2 72.5,154.9 73.4,156.1 74.3,156.6 75.2,158.2 76.1,160.3 77.0,161.9 77.9,162.3 78.8,162.8 79.7,165.0 80.6,165.1 81.5,165.2 82.4,166.6 83.3,167.7 84.2,169.7 85.1,170.7 86.0,171.9 86.9,173.0 87.8,175.4 88.7,174.9 89.6,175.9 90.5,176.8 91.4,176.4 92.3,176.6 93.2,176.8 94.1,176.5 95.0,177.8 95.9,177.6 96.8,178.0 97.7,177.0 98.6,176.6 99.5,177.8 100.4,177.8 101.3,178.1 102.2,177.0 103.1,174.7 104.0,172.4 104.9,171.3 105.8,170.4 106.7,169.6 107.6,167.8 108.5,165.7 109.4,166.1 110.3,164.5 111.2,165.1 112.1,164.8 113.0,164.1 113.9,162.2 114.8,161.4 115.7,160.4 116.6,158.8 117.5,158.6 118.4,156.6 119.3,156.4 120.2,155.0 121.1,154.2 122.0,153.3 122.9,151.3 123.8,149.6 124.7,148.0 125.6,146.2 126.5,144.2 127.4,143.1 128.3,141.8 129.2,139.4 130.1,137.3 131.0,135.8 131.9,133.7 132.8,132.7 133.7,131.2 134.6,131.4 135.5,130.0 136.4,128.6 137.3,127.1 138.2,127.0 139.1,126.4 140.0,124.0 140.9,123.6 141.8,121.1 142.7,119.4 143.6,119.8 144.5,119.5 145.4,118.0 146.3,117.8 147.2,117.7 148.1,115.5 149.0,114.6 149.9,112.7 150.8,112.5 151.7,111.3 152.6,109.5 153.5,109.7 154.4,109.3 155.3,108.0 156.2,106.7 157.1,105.9 158.0,107.5 158.9,107.5 159.8,106.8 160.7,106.8 161.6,106.2 162.5,106.9 163.4,107.6 164.3,108.1 165.2,109.0 166.1,108.9 167.0,109.6 167.9,110.6 168.8,112.9 169.7,114.9 170.6,116.6 171.5,116.5 172.4,116.5 173.3,116.8 174.2,119.2 175.1,121.0 176.0,120.3 176.9,121.3 177.8,121.7 178.7,123.3 179.6,124.5 180.5,125.5 181.4,126.7 182.3,127.5 183.2,129.7 184.1,129.8 185.0,130.1 185.9,132.3 186.8,133.6 187.7,134.4 188.6,136.4 189.5,138.9 190.4,141.2 191.3,142.4 192.2,144.9 193.1,145.0 194.0,145.9 194.9,147.1 195.8,148.0 196.7,149.5 197.6,151.2 198.5,152.1 199.4,153.2 200.3,153.1 201.2,153.9 202.1,156.2 203.0,156.6 203.9,157.8 204.8,159.0 205.7,160.2 206.6,162.4 207.5,162.9 208.4,163.5 209.3,164.6 210.2,165.4 211.1,166.2 212.0,167.9 212.9,168.7 213.8,171.2 214.7,172.7 215.6,173.8 216.5,176.0 217.4,176.8 218.3,176.7 219.2,176.8 220.1,177.7 221.0,176.5 221.9,176.3 222.8,177.0 223.7,176.7 224.6,176.9 225.5,177.3 226.4,178.0 227.3,177.0 228.2,177.2 229.1,176.8 230.0,176.0 230.9,174.4 231.8,174.9 232.7,173.1 233.6,171.0 234.5,170.3 235.4,169.0 236.3,168.7 237.2,168.0 238.1,166.8 239.0,166.6 239.9,165.8 240.8,163.5 241.7,162.5 242.6,161.6 243.5,159.5 244.4,158.7 245.3,156.8 246.2,156.1 247.1,154.9 248.0,155.5 248.9,154.1 249.8,152.5 250.7,152.5 251.6,149.8 252.5,149.3 253.4,147.5 254.3,146.4 255.2,144.3 256.1,142.1 257.0,141.4 257.9,138.3 258.8,137.2 259.7,135.7 260.6,134.2 261.5,133.5 262.4,133.0 263.3,131.4 264.2,130.4 265.1,130.0 266.0,128.3 266.9,127.7 267.8,127.5 268.7,126.2 269.6,125.3 270.5,124.0 271.4,121.4 272.3,120.4 273.2,118.3 274.1,117.1 275.0,117.8 275.9,115.6 276.8,113.9 277.7,114.4 278.6,112.2 279.5,111.4 280.4,110.4 281.3,108.2 282.2,108.4 283.1,107.8 284.0,106.5" fill="none" stroke="#ee7480" stroke-width="1.2" stroke-linejoin="round" />
<polyline points="27.5,159.7 28.4,159.0 29.3,157.0 30.2,155.7 31.1,155.0 32.0,155.3 32.9,153.9 33.8,153.1 34.7,152.7 35.6,152.3 36.5,150.4 37.4,149.5 38.3,147.6 39.2,145.1 40.1,143.4 41.0,142.2 41.9,140.1 42.8,138.6 43.7,136.2 44.6,134.8 45.5,132.4 46.4,130.7 47.3,129.8 48.2,130.1 49.1,130.3 50.0,128.2 50.9,126.8 51.8,125.9 52.7,125.4 53.6,124.7 54.5,122.8 55.4,121.4 56.3,120.0 57.2,118.7 58.1,117.3 59.0,117.5 59.9,117.2 60.8,115.0 61.7,113.5 62.6,112.2 63.5,112.8 64.4,112.6 65.3,111.4 66.2,109.9 67.1,108.2 68.0,108.2 68.9,107.1 69.8,107.6 70.7,107.9 71.6,106.8 72.5,106.5 73.4,106.1 74.3,106.3 75.2,106.0 76.1,106.3 77.0,106.1 77.9,105.1 78.8,104.5 79.7,106.3 80.6,107.9 81.5,107.9 82.4,109.1 83.3,110.2 84.2,112.8 85.1,114.3 86.0,116.0 86.9,116.1 87.8,117.4 88.7,117.7 89.6,117.4 90.5,119.0 91.4,119.9 92.3,120.3 93.2,120.6 94.1,122.4 95.0,124.1 95.9,126.1 96.8,125.9 97.7,128.0 98.6,129.7 99.5,130.1 100.4,131.0 101.3,131.8 102.2,133.8 103.1,134.7 104.0,137.5 104.9,139.6 105.8,140.5 106.7,143.0 107.6,144.6 108.5,145.1 109.4,146.1 110.3,148.0 111.2,149.9 112.1,150.8 113.0,150.8 113.9,152.0 114.8,153.7 115.7,153.7 116.6,154.6 117.5,154.9 118.4,155.6 119.3,156.7 120.2,158.9 121.1,159.8 122.0,161.9 122.9,163.4 123.8,164.3 124.7,164.0 125.6,164.2 126.5,166.2 127.4,167.7 128.3,169.1 129.2,170.5 130.1,171.8 131.0,173.0 131.9,174.4 132.8,174.5 133.7,174.0 134.6,174.3 135.5,173.7 136.4,173.9 137.3,174.9 138.2,174.3 139.1,173.7 140.0,175.0 140.9,176.5 141.8,176.2 142.7,175.8 143.6,175.2 144.5,173.4 145.4,172.4 146.3,170.7 147.2,170.7 148.1,168.9 149.0,166.7 149.9,166.6 150.8,166.2 151.7,164.2 152.6,162.4 153.5,162.9 154.4,161.7 155.3,161.8 156.2,160.0 157.1,158.8 158.0,158.5 158.9,157.9 159.8,155.9 160.7,154.9 161.6,153.3 162.5,152.8 163.4,152.2 164.3,149.8 165.2,148.5 166.1,147.5 167.0,146.0 167.9,144.0 168.8,142.1 169.7,139.8 170.6,139.0 171.5,136.9 172.4,135.4 173.3,133.5 174.2,132.1 175.1,130.7 176.0,129.4 176.9,128.2 177.8,127.9 178.7,127.6 179.6,126.6 180.5,125.3 181.4,124.8 182.3,124.0 183.2,123.5 184.1,121.3 185.0,119.0 185.9,118.6 186.8,118.6 187.7,118.2 188.6,117.2 189.5,116.5 190.4,114.2 191.3,114.5 192.2,113.5 193.1,112.8 194.0,110.7 194.9,108.6 195.8,108.4 196.7,108.4 197.6,107.4 198.5,106.6 199.4,105.4 200.3,106.8 201.2,107.5 202.1,107.7 203.0,107.6 203.9,107.3 204.8,105.9 205.7,105.2 206.6,105.8 207.5,106.5 208.4,107.1 209.3,108.3 210.2,108.4 211.1,110.2 212.0,111.4 212.9,112.2 213.8,113.9 214.7,115.8 215.6,115.8 216.5,116.0 217.4,117.6 218.3,118.4 219.2,118.2 220.1,119.6 221.0,121.4 221.9,123.4 222.8,122.9 223.7,123.4 224.6,125.1 225.5,126.1 226.4,127.2 227.3,128.8 228.2,128.6 229.1,129.8 230.0,132.2 230.9,134.8 231.8,136.0 232.7,137.8 233.6,138.5 234.5,139.8 235.4,141.4 236.3,144.0 237.2,146.2 238.1,147.6 239.0,149.0 239.9,148.8 240.8,149.9 241.7,150.5 242.6,150.4 243.5,152.4 244.4,153.4 245.3,155.5 246.2,155.8 247.1,158.4 248.0,158.6 248.9,159.2 249.8,160.0 250.7,162.5 251.6,163.9 252.5,164.0 253.4,165.7 254.3,166.2 255.2,167.0 256.1,166.8 257.0,168.2 257.9,168.9 258.8,171.0 259.7,171.6 260.6,173.1 261.5,172.9 262.4,174.7 263.3,174.0 264.2,174.9 265.1,174.7 266.0,174.6 266.9,175.5 267.8,174.6 268.7,175.5 269.6,176.1 270.5,177.0 271.4,176.8 272.3,176.0 273.2,174.4 274.1,173.6 275.0,171.6 275.9,171.1 276.8,169.4 277.7,167.7 278.6,165.1 279.5,163.5 280.4,162.7 281.3,163.5 282.2,162.9 283.1,161.5 284.0,161.4" fill="none" stroke="#5e5e5e" stroke-width="1.15" stroke-linejoin="round" />
<text x="284.50" y="109.00" font-size="6.5" font-weight="normal" fill="#e05060" textLength="4.00" lengthAdjust="spacingAndGlyphs" stroke="#e05060" stroke-width="0.45" stroke-linejoin="round" >3</text>
<text x="284.50" y="153.00" font-size="6.5" font-weight="normal" fill="#d8d020" textLength="4.00" lengthAdjust="spacingAndGlyphs" stroke="#d8d020" stroke-width="0.45" stroke-linejoin="round" >2</text>
<text x="284.50" y="168.00" font-size="6.5" font-weight="normal" fill="#444" textLength="4.00" lengthAdjust="spacingAndGlyphs" stroke="#444" stroke-width="0.45" stroke-linejoin="round" >1</text>
</g>
<text x="544.70" y="96.33" font-size="11.2" font-weight="bold" fill="#151515" textLength="7.00" lengthAdjust="spacingAndGlyphs" stroke="#151515" stroke-width="0.45" stroke-linejoin="round" >N</text>
<text x="557.20" y="96.33" font-size="11.2" font-weight="bold" fill="#151515" textLength="16.80" lengthAdjust="spacingAndGlyphs" stroke="#151515" stroke-width="0.45" stroke-linejoin="round" >40A</text>
<text x="317.10" y="234.12" font-size="11.2" font-weight="bold" fill="#151515" textLength="39.10" lengthAdjust="spacingAndGlyphs" stroke="#151515" stroke-width="0.45" stroke-linejoin="round" >09/04/09</text>
<text x="362.50" y="234.12" font-size="11.2" font-weight="bold" fill="#151515" textLength="37.00" lengthAdjust="spacingAndGlyphs" stroke="#151515" stroke-width="0.45" stroke-linejoin="round" >12:04:25</text>
<text x="420.40" y="234.12" font-size="11.2" font-weight="bold" fill="#151515" textLength="21.00" lengthAdjust="spacingAndGlyphs" stroke="#151515" stroke-width="0.45" stroke-linejoin="round" >230V</text>
<text x="448.90" y="234.12" font-size="11.2" font-weight="bold" fill="#151515" textLength="20.30" lengthAdjust="spacingAndGlyphs" stroke="#151515" stroke-width="0.45" stroke-linejoin="round" >50Hz</text>
<text x="471.20" y="234.12" font-size="11.2" font-weight="bold" fill="#151515" textLength="11.00" lengthAdjust="spacingAndGlyphs" stroke="#151515" stroke-width="0.45" stroke-linejoin="round" >3Ø</text>
<text x="485.70" y="234.12" font-size="11.2" font-weight="bold" fill="#151515" textLength="20.30" lengthAdjust="spacingAndGlyphs" stroke="#151515" stroke-width="0.45" stroke-linejoin="round" >WYE</text>
<text x="522.20" y="234.12" font-size="11.2" font-weight="bold" fill="#151515" textLength="36.30" lengthAdjust="spacingAndGlyphs" stroke="#151515" stroke-width="0.45" stroke-linejoin="round" >EN50160</text>
<rect x="311.00" y="238.49" width="270.70" height="24.20" fill="#5a8cd2" />
<line x1="364.20" y1="238.49" x2="364.20" y2="262.69" stroke="#22559f" stroke-width="1.3" />
<line x1="419.00" y1="238.49" x2="419.00" y2="262.69" stroke="#22559f" stroke-width="1.3" />
<line x1="473.70" y1="238.49" x2="473.70" y2="262.69" stroke="#22559f" stroke-width="1.3" />
<line x1="528.45" y1="238.49" x2="528.45" y2="262.69" stroke="#22559f" stroke-width="1.3" />
<text x="320.90" y="249.23" font-size="10.4" font-weight="bold" fill="#e6efff" textLength="5.50" lengthAdjust="spacingAndGlyphs" stroke="#e6efff" stroke-width="0.45" stroke-linejoin="round" >V</text>
<rect x="332.10" y="240.00" width="8.80" height="10.14" fill="#0a0a0a" />
<text x="333.80" y="249.23" font-size="10.4" font-weight="bold" fill="#ffffff" textLength="5.50" lengthAdjust="spacingAndGlyphs" stroke="#ffffff" stroke-width="0.45" stroke-linejoin="round" >A</text>
<text x="348.20" y="249.23" font-size="10.4" font-weight="bold" fill="#e6efff" textLength="5.50" lengthAdjust="spacingAndGlyphs" stroke="#e6efff" stroke-width="0.45" stroke-linejoin="round" >N</text>
<text x="313.20" y="260.48" font-size="10.4" font-weight="bold" fill="#e6efff" textLength="10.70" lengthAdjust="spacingAndGlyphs" stroke="#e6efff" stroke-width="0.45" stroke-linejoin="round" >L1</text>
<text x="329.90" y="260.48" font-size="10.4" font-weight="bold" fill="#e6efff" textLength="11.80" lengthAdjust="spacingAndGlyphs" stroke="#e6efff" stroke-width="0.45" stroke-linejoin="round" >L2</text>
<text x="348.70" y="260.48" font-size="10.4" font-weight="bold" fill="#e6efff" textLength="11.20" lengthAdjust="spacingAndGlyphs" stroke="#e6efff" stroke-width="0.45" stroke-linejoin="round" >L3</text>
<text x="375.90" y="249.23" font-size="10.4" font-weight="bold" fill="#e6efff" textLength="35.00" lengthAdjust="spacingAndGlyphs" stroke="#e6efff" stroke-width="0.45" stroke-linejoin="round" >CURSOR</text>
<text x="375.90" y="260.48" font-size="10.4" font-weight="bold" fill="#e6efff" textLength="6.30" lengthAdjust="spacingAndGlyphs" stroke="#e6efff" stroke-width="0.45" stroke-linejoin="round" >&amp;</text>
<text x="385.20" y="260.48" font-size="10.4" font-weight="bold" fill="#e6efff" textLength="24.50" lengthAdjust="spacingAndGlyphs" stroke="#e6efff" stroke-width="0.45" stroke-linejoin="round" >ZOOM</text>
<line x1="443.40" y1="250.64" x2="438.20" y2="242.91" stroke="#eef4ff" stroke-width="1.1" />
<line x1="443.40" y1="250.64" x2="438.20" y2="258.57" stroke="#eef4ff" stroke-width="1.1" />
<line x1="443.40" y1="250.64" x2="449.70" y2="250.64" stroke="#eef4ff" stroke-width="1.3" />
<polygon points="436.30,240.50 440.10,241.50 437.10,244.52" fill="#eef4ff"/>
<polygon points="436.30,261.18 440.10,259.98 437.10,256.96" fill="#eef4ff"/>
<polygon points="453.10,250.64 449.10,248.04 449.10,253.24" fill="#eef4ff"/>
<text x="480.70" y="249.23" font-size="10.4" font-weight="bold" fill="#92b4ee" textLength="42.70" lengthAdjust="spacingAndGlyphs" stroke="#92b4ee" stroke-width="0.45" stroke-linejoin="round" >VOLTAGE</text>
<path d="M491.20 254.96 v3 l-2.3 2.4 m2.3 -2.4 l2.3 2.4" stroke="#92b4ee" stroke-width="0.9" fill="none"/>
<path d="M511.20 255.96 l-3 4.3 h6 z" stroke="#92b4ee" stroke-width="0.9" fill="none"/>
<text x="544.70" y="249.23" font-size="10.4" font-weight="bold" fill="#e6efff" textLength="23.70" lengthAdjust="spacingAndGlyphs" stroke="#e6efff" stroke-width="0.45" stroke-linejoin="round" >HOLD</text>
<rect x="544.50" y="251.54" width="25.40" height="9.84" fill="#0a0a0a" />
<text x="548.20" y="260.28" font-size="10.4" font-weight="bold" fill="#ffffff" textLength="18.00" lengthAdjust="spacingAndGlyphs" stroke="#ffffff" stroke-width="0.45" stroke-linejoin="round" >RUN</text>
<rect x="16.70" y="276.20" width="278.60" height="253.50" fill="#0c0c10" />
<rect x="18.40" y="278.10" width="275.10" height="21.90" fill="#ffffff" />
<rect x="19.70" y="278.10" width="272.20" height="21.90" fill="#d2d2d2" />
<rect x="18.40" y="299.90" width="275.40" height="227.80" fill="#3f8ade" />
<rect x="18.40" y="299.50" width="275.20" height="2.50" fill="#36699f" />
<rect x="20.40" y="302.00" width="271.30" height="198.70" fill="#ffffff" />
<text x="23.00" y="287.60" font-size="11.3" font-weight="bold" fill="#151515" textLength="52.00" lengthAdjust="spacingAndGlyphs" stroke="#151515" stroke-width="0.45" stroke-linejoin="round" >Harmonics</text>
<rect x="89.50" y="288.00" width="65.00" height="11.00" fill="#0a0a0a" />
<text x="91.50" y="295.00" font-size="6.5" font-weight="bold" fill="#fff" textLength="2.50" lengthAdjust="spacingAndGlyphs" stroke="#fff" stroke-width="0.45" stroke-linejoin="round" >1</text>
<text x="97.50" y="297.60" font-size="10.6" font-weight="bold" fill="#fff" textLength="18.50" lengthAdjust="spacingAndGlyphs" stroke="#fff" stroke-width="0.45" stroke-linejoin="round" >THD</text>
<text x="119.80" y="297.60" font-size="10.6" font-weight="bold" fill="#fff" textLength="33.80" lengthAdjust="spacingAndGlyphs" stroke="#fff" stroke-width="0.45" stroke-linejoin="round" >41.7%r</text>
<rect x="157.50" y="288.00" width="65.50" height="11.00" fill="#0a0a0a" />
<text x="159.50" y="295.00" font-size="6.5" font-weight="bold" fill="#fff" textLength="2.50" lengthAdjust="spacingAndGlyphs" stroke="#fff" stroke-width="0.45" stroke-linejoin="round" >1</text>
<text x="165.50" y="297.60" font-size="10.6" font-weight="bold" fill="#fff" textLength="6.00" lengthAdjust="spacingAndGlyphs" stroke="#fff" stroke-width="0.45" stroke-linejoin="round" >K</text>
<text x="193.50" y="297.60" font-size="10.6" font-weight="bold" fill="#fff" textLength="14.00" lengthAdjust="spacingAndGlyphs" stroke="#fff" stroke-width="0.45" stroke-linejoin="round" >7.3</text>
<circle cx="136.60" cy="310.00" r="2.5" fill="#fff" stroke="#1a1a1a" stroke-width="1.25"/>
<rect x="135.65" y="306.10" width="1.90" height="1.30" fill="#1a1a1a" />
<rect x="135.65" y="312.60" width="1.90" height="1.10" fill="#1a1a1a" />
<path d="M136.60 308.70 V310.30 H137.70" stroke="#1a1a1a" stroke-width="0.8" fill="none"/>
<text x="153.70" y="314.40" font-size="11.2" font-weight="bold" fill="#151515" textLength="32.60" lengthAdjust="spacingAndGlyphs" stroke="#151515" stroke-width="0.45" stroke-linejoin="round" >0:00:05</text>
<path d="M234.50 309 a2.6 2.6 0 1 0 2.2 -1.3" fill="none" stroke="#222" stroke-width="1.1"/>
<polygon points="233.60,306.6 236.80,307 234.50,309.6" fill="#222"/>
<rect x="251.20" y="307.30" width="11.10" height="7.00" fill="#222" />
<rect x="252.50" y="308.60" width="8.50" height="4.40" fill="#fff" />
<rect x="254.00" y="310.00" width="5.50" height="1.60" fill="#222" />
<rect x="264.90" y="306.80" width="10.50" height="7.80" fill="#111" />
<rect x="275.40" y="308.30" width="1.30" height="4.80" fill="#111" />
<polygon points="267.90,308.00 274.20,308.00 274.20,313.40 272.40,313.40" fill="#fff"/>
<line x1="27.00" y1="321.20" x2="285.50" y2="321.20" stroke="#4a4a4a" stroke-width="1.3" stroke-dasharray="1.4 2.888"/>
<line x1="27.00" y1="395.00" x2="285.50" y2="395.00" stroke="#4a4a4a" stroke-width="1.3" stroke-dasharray="1.4 2.888"/>
<line x1="27.00" y1="467.60" x2="285.50" y2="467.60" stroke="#4a4a4a" stroke-width="1.3" stroke-dasharray="1.4 2.888"/>
<rect x="47.50" y="316.00" width="22.30" height="10.00" fill="#fff" />
<text x="48.70" y="325.20" font-size="10.8" font-weight="bold" fill="#151515" textLength="20.60" lengthAdjust="spacingAndGlyphs" stroke="#151515" stroke-width="0.45" stroke-linejoin="round" >100%</text>
<rect x="50.00" y="390.00" width="18.50" height="10.00" fill="#fff" />
<text x="51.20" y="399.00" font-size="10.8" font-weight="bold" fill="#151515" textLength="16.80" lengthAdjust="spacingAndGlyphs" stroke="#151515" stroke-width="0.45" stroke-linejoin="round" >50%</text>
<line x1="26.90" y1="326.00" x2="26.90" y2="467.00" stroke="#5c5c5c" stroke-width="1.25" />
<polygon points="22.30,325 26.20,321 26.20,329" fill="#111"/>
<polygon points="31.50,325 27.60,321 27.60,329" fill="#111"/>
<polygon points="26.90,392.5 29.00,395 26.90,397.5 24.80,395" fill="#111"/>
<line x1="27.00" y1="467.00" x2="27.00" y2="470.00" stroke="#111" stroke-width="1.1" />
<line x1="40.00" y1="467.00" x2="40.00" y2="470.00" stroke="#111" stroke-width="1.1" />
<line x1="69.00" y1="467.00" x2="69.00" y2="470.00" stroke="#111" stroke-width="1.1" />
<line x1="81.89" y1="467.00" x2="81.89" y2="470.00" stroke="#111" stroke-width="1.1" />
<line x1="94.78" y1="467.00" x2="94.78" y2="470.00" stroke="#111" stroke-width="1.1" />
<line x1="107.67" y1="467.00" x2="107.67" y2="470.00" stroke="#111" stroke-width="1.1" />
<line x1="120.56" y1="467.00" x2="120.56" y2="470.00" stroke="#111" stroke-width="1.1" />
<line x1="133.45" y1="467.00" x2="133.45" y2="470.00" stroke="#111" stroke-width="1.1" />
<line x1="146.34" y1="467.00" x2="146.34" y2="470.00" stroke="#111" stroke-width="1.1" />
<line x1="159.23" y1="467.00" x2="159.23" y2="470.00" stroke="#111" stroke-width="1.1" />
<line x1="172.12" y1="467.00" x2="172.12" y2="470.00" stroke="#111" stroke-width="1.1" />
<line x1="185.01" y1="467.00" x2="185.01" y2="470.00" stroke="#111" stroke-width="1.1" />
<line x1="197.90" y1="467.00" x2="197.90" y2="470.00" stroke="#111" stroke-width="1.1" />
<line x1="210.79" y1="467.00" x2="210.79" y2="470.00" stroke="#111" stroke-width="1.1" />
<line x1="223.68" y1="467.00" x2="223.68" y2="470.00" stroke="#111" stroke-width="1.1" />
<line x1="236.57" y1="467.00" x2="236.57" y2="470.00" stroke="#111" stroke-width="1.1" />
<line x1="249.46" y1="467.00" x2="249.46" y2="470.00" stroke="#111" stroke-width="1.1" />
<line x1="262.35" y1="467.00" x2="262.35" y2="470.00" stroke="#111" stroke-width="1.1" />
<line x1="275.24" y1="467.00" x2="275.24" y2="470.00" stroke="#111" stroke-width="1.1" />
<rect x="26.60" y="406.80" width="2.50" height="60.50" fill="#0a0a0a" />
<rect x="29.95" y="405.00" width="2.50" height="62.30" fill="#22dd22" />
<rect x="33.30" y="406.30" width="2.50" height="61.00" fill="#e0161e" />
<rect x="39.60" y="466.00" width="2.50" height="1.30" fill="#0a0a0a" />
<rect x="42.95" y="466.30" width="2.50" height="1.00" fill="#22dd22" />
<rect x="46.30" y="465.80" width="2.50" height="1.50" fill="#e0161e" />
<rect x="68.70" y="334.30" width="2.50" height="133.00" fill="#0a0a0a" />
<rect x="72.05" y="334.00" width="2.50" height="133.30" fill="#22dd22" />
<rect x="75.40" y="334.30" width="2.50" height="133.00" fill="#e0161e" />
<rect x="94.60" y="463.30" width="2.50" height="4.00" fill="#0a0a0a" />
<rect x="97.95" y="466.00" width="2.50" height="1.30" fill="#22dd22" />
<rect x="101.30" y="463.80" width="2.50" height="3.50" fill="#e0161e" />
<rect x="119.90" y="411.00" width="2.50" height="56.30" fill="#0a0a0a" />
<rect x="123.25" y="409.00" width="2.50" height="58.30" fill="#22dd22" />
<rect x="126.60" y="411.00" width="2.50" height="56.30" fill="#e0161e" />
<rect x="146.10" y="452.50" width="2.50" height="14.80" fill="#0a0a0a" />
<rect x="149.45" y="452.00" width="2.50" height="15.30" fill="#22dd22" />
<rect x="152.80" y="451.80" width="2.50" height="15.50" fill="#e0161e" />
<rect x="171.60" y="466.50" width="2.50" height="0.80" fill="#0a0a0a" />
<rect x="174.95" y="466.30" width="2.50" height="1.00" fill="#22dd22" />
<rect x="178.30" y="466.30" width="2.50" height="1.00" fill="#e0161e" />
<rect x="197.40" y="457.00" width="2.50" height="10.30" fill="#0a0a0a" />
<rect x="200.75" y="456.00" width="2.50" height="11.30" fill="#22dd22" />
<rect x="204.10" y="457.50" width="2.50" height="9.80" fill="#e0161e" />
<rect x="223.20" y="465.00" width="2.50" height="2.30" fill="#0a0a0a" />
<rect x="226.55" y="466.30" width="2.50" height="1.00" fill="#22dd22" />
<rect x="229.90" y="465.00" width="2.50" height="2.30" fill="#e0161e" />
<rect x="249.00" y="466.50" width="2.50" height="0.80" fill="#0a0a0a" />
<rect x="252.35" y="466.00" width="2.50" height="1.30" fill="#22dd22" />
<rect x="255.70" y="466.30" width="2.50" height="1.00" fill="#e0161e" />
<rect x="274.80" y="462.50" width="2.50" height="4.80" fill="#0a0a0a" />
<rect x="278.15" y="462.50" width="2.50" height="4.80" fill="#22dd22" />
<rect x="281.50" y="463.00" width="2.50" height="4.30" fill="#e0161e" />
<text x="24.40" y="480.60" font-size="11.2" font-weight="bold" fill="#151515" textLength="29.30" lengthAdjust="spacingAndGlyphs" stroke="#151515" stroke-width="0.45" stroke-linejoin="round" >THDDC</text>
<text x="66.90" y="480.60" font-size="11.2" font-weight="bold" fill="#151515" textLength="3.40" lengthAdjust="spacingAndGlyphs" stroke="#151515" stroke-width="0.45" stroke-linejoin="round" >1</text>
<text x="92.00" y="480.60" font-size="11.2" font-weight="bold" fill="#151515" textLength="5.00" lengthAdjust="spacingAndGlyphs" stroke="#151515" stroke-width="0.45" stroke-linejoin="round" >3</text>
<text x="117.80" y="480.60" font-size="11.2" font-weight="bold" fill="#151515" textLength="5.00" lengthAdjust="spacingAndGlyphs" stroke="#151515" stroke-width="0.45" stroke-linejoin="round" >5</text>
<text x="143.80" y="480.60" font-size="11.2" font-weight="bold" fill="#151515" textLength="5.00" lengthAdjust="spacingAndGlyphs" stroke="#151515" stroke-width="0.45" stroke-linejoin="round" >7</text>
<text x="169.80" y="480.60" font-size="11.2" font-weight="bold" fill="#151515" textLength="4.80" lengthAdjust="spacingAndGlyphs" stroke="#151515" stroke-width="0.45" stroke-linejoin="round" >9</text>
<text x="194.60" y="480.60" font-size="11.2" font-weight="bold" fill="#151515" textLength="7.60" lengthAdjust="spacingAndGlyphs" stroke="#151515" stroke-width="0.45" stroke-linejoin="round" >11</text>
<text x="219.40" y="480.60" font-size="11.2" font-weight="bold" fill="#151515" textLength="9.40" lengthAdjust="spacingAndGlyphs" stroke="#151515" stroke-width="0.45" stroke-linejoin="round" >13</text>
<text x="245.00" y="480.60" font-size="11.2" font-weight="bold" fill="#151515" textLength="9.50" lengthAdjust="spacingAndGlyphs" stroke="#151515" stroke-width="0.45" stroke-linejoin="round" >15</text>
<text x="271.00" y="480.60" font-size="11.2" font-weight="bold" fill="#151515" textLength="9.00" lengthAdjust="spacingAndGlyphs" stroke="#151515" stroke-width="0.45" stroke-linejoin="round" >17</text>
<text x="27.40" y="497.20" font-size="11.2" font-weight="bold" fill="#151515" textLength="39.10" lengthAdjust="spacingAndGlyphs" stroke="#151515" stroke-width="0.45" stroke-linejoin="round" >09/04/09</text>
<text x="72.80" y="497.20" font-size="11.2" font-weight="bold" fill="#151515" textLength="37.00" lengthAdjust="spacingAndGlyphs" stroke="#151515" stroke-width="0.45" stroke-linejoin="round" >12:02:29</text>
<text x="130.70" y="497.20" font-size="11.2" font-weight="bold" fill="#151515" textLength="21.00" lengthAdjust="spacingAndGlyphs" stroke="#151515" stroke-width="0.45" stroke-linejoin="round" >230V</text>
<text x="159.20" y="497.20" font-size="11.2" font-weight="bold" fill="#151515" textLength="20.30" lengthAdjust="spacingAndGlyphs" stroke="#151515" stroke-width="0.45" stroke-linejoin="round" >50Hz</text>
<text x="181.50" y="497.20" font-size="11.2" font-weight="bold" fill="#151515" textLength="11.00" lengthAdjust="spacingAndGlyphs" stroke="#151515" stroke-width="0.45" stroke-linejoin="round" >3Ø</text>
<text x="196.00" y="497.20" font-size="11.2" font-weight="bold" fill="#151515" textLength="20.30" lengthAdjust="spacingAndGlyphs" stroke="#151515" stroke-width="0.45" stroke-linejoin="round" >WYE</text>
<text x="232.50" y="497.20" font-size="11.2" font-weight="bold" fill="#151515" textLength="36.30" lengthAdjust="spacingAndGlyphs" stroke="#151515" stroke-width="0.45" stroke-linejoin="round" >EN50160</text>
<rect x="20.40" y="502.00" width="271.30" height="24.30" fill="#6c92d8" />
<line x1="72.50" y1="502.00" x2="72.50" y2="526.30" stroke="#3f8ade" stroke-width="1.3" />
<line x1="127.50" y1="502.00" x2="127.50" y2="526.30" stroke="#3f8ade" stroke-width="1.3" />
<line x1="183.75" y1="502.00" x2="183.75" y2="526.30" stroke="#3f8ade" stroke-width="1.3" />
<line x1="238.75" y1="502.00" x2="238.75" y2="526.30" stroke="#3f8ade" stroke-width="1.3" />
<text x="30.10" y="518.70" font-size="10.4" font-weight="bold" fill="#e6efff" textLength="5.40" lengthAdjust="spacingAndGlyphs" stroke="#e6efff" stroke-width="0.45" stroke-linejoin="round" >V</text>
<rect x="41.10" y="508.80" width="9.00" height="10.70" fill="#0a0a0a" />
<text x="43.00" y="518.70" font-size="10.4" font-weight="bold" fill="#fff" textLength="5.40" lengthAdjust="spacingAndGlyphs" stroke="#fff" stroke-width="0.45" stroke-linejoin="round" >A</text>
<text x="56.30" y="518.70" font-size="10.4" font-weight="bold" fill="#e6efff" textLength="7.20" lengthAdjust="spacingAndGlyphs" stroke="#e6efff" stroke-width="0.45" stroke-linejoin="round" >W</text>
<text x="77.00" y="512.20" font-size="10.4" font-weight="bold" fill="#e6efff" textLength="10.50" lengthAdjust="spacingAndGlyphs" stroke="#e6efff" stroke-width="0.45" stroke-linejoin="round" >L1</text>
<text x="94.00" y="512.20" font-size="10.4" font-weight="bold" fill="#e6efff" textLength="11.50" lengthAdjust="spacingAndGlyphs" stroke="#e6efff" stroke-width="0.45" stroke-linejoin="round" >L2</text>
<text x="112.00" y="512.20" font-size="10.4" font-weight="bold" fill="#e6efff" textLength="11.50" lengthAdjust="spacingAndGlyphs" stroke="#e6efff" stroke-width="0.45" stroke-linejoin="round" >L3</text>
<text x="82.50" y="523.30" font-size="10.4" font-weight="bold" fill="#e6efff" textLength="6.00" lengthAdjust="spacingAndGlyphs" stroke="#e6efff" stroke-width="0.45" stroke-linejoin="round" >N</text>
<rect x="99.50" y="514.40" width="26.10" height="10.00" fill="#0a0a0a" />
<text x="104.00" y="523.30" font-size="10.4" font-weight="bold" fill="#fff" textLength="17.00" lengthAdjust="spacingAndGlyphs" stroke="#fff" stroke-width="0.45" stroke-linejoin="round" >ALL</text>
<text x="139.50" y="518.50" font-size="10.4" font-weight="bold" fill="#e6efff" textLength="32.50" lengthAdjust="spacingAndGlyphs" stroke="#e6efff" stroke-width="0.45" stroke-linejoin="round" >METER</text>
<text x="191.00" y="512.20" font-size="10.4" font-weight="bold" fill="#e6efff" textLength="37.50" lengthAdjust="spacingAndGlyphs" stroke="#e6efff" stroke-width="0.45" stroke-linejoin="round" >I-HARM.</text>
<text x="189.50" y="523.30" font-size="10.4" font-weight="bold" fill="#e6efff" textLength="11.50" lengthAdjust="spacingAndGlyphs" stroke="#e6efff" stroke-width="0.45" stroke-linejoin="round" >ON</text>
<rect x="207.00" y="514.40" width="29.30" height="10.00" fill="#0a0a0a" />
<text x="212.50" y="523.30" font-size="10.4" font-weight="bold" fill="#fff" textLength="18.50" lengthAdjust="spacingAndGlyphs" stroke="#fff" stroke-width="0.45" stroke-linejoin="round" >OFF</text>
<text x="255.00" y="512.20" font-size="10.4" font-weight="bold" fill="#e6efff" textLength="23.70" lengthAdjust="spacingAndGlyphs" stroke="#e6efff" stroke-width="0.45" stroke-linejoin="round" >HOLD</text>
<rect x="254.60" y="514.40" width="25.90" height="10.00" fill="#0a0a0a" />
<text x="258.50" y="523.30" font-size="10.4" font-weight="bold" fill="#fff" textLength="18.00" lengthAdjust="spacingAndGlyphs" stroke="#fff" stroke-width="0.45" stroke-linejoin="round" >RUN</text>
<rect x="307.40" y="276.20" width="277.70" height="253.50" fill="#0c0c10" />
<rect x="309.10" y="278.10" width="274.20" height="21.90" fill="#ffffff" />
<rect x="310.40" y="278.10" width="271.30" height="21.90" fill="#d2d2d2" />
<rect x="309.10" y="299.90" width="274.50" height="227.80" fill="#1f4f98" />
<rect x="309.10" y="299.50" width="274.30" height="2.50" fill="#2a6496" />
<rect x="311.10" y="302.00" width="270.40" height="198.70" fill="#ffffff" />
<text x="312.70" y="287.60" font-size="11.3" font-weight="bold" fill="#151515" textLength="52.00" lengthAdjust="spacingAndGlyphs" stroke="#151515" stroke-width="0.45" stroke-linejoin="round" >Harmonics</text>
<rect x="379.20" y="288.00" width="65.00" height="11.00" fill="#0a0a0a" />
<text x="381.20" y="295.00" font-size="6.5" font-weight="bold" fill="#fff" textLength="2.50" lengthAdjust="spacingAndGlyphs" stroke="#fff" stroke-width="0.45" stroke-linejoin="round" >1</text>
<text x="387.20" y="297.60" font-size="10.6" font-weight="bold" fill="#fff" textLength="18.50" lengthAdjust="spacingAndGlyphs" stroke="#fff" stroke-width="0.45" stroke-linejoin="round" >THD</text>
<text x="415.50" y="297.60" font-size="10.6" font-weight="bold" fill="#fff" textLength="27.80" lengthAdjust="spacingAndGlyphs" stroke="#fff" stroke-width="0.45" stroke-linejoin="round" >4.5%r</text>
<rect x="447.20" y="288.00" width="65.50" height="11.00" fill="#0a0a0a" />
<text x="449.20" y="295.00" font-size="6.5" font-weight="bold" fill="#fff" textLength="2.50" lengthAdjust="spacingAndGlyphs" stroke="#fff" stroke-width="0.45" stroke-linejoin="round" >1</text>
<text x="455.20" y="297.60" font-size="10.6" font-weight="bold" fill="#fff" textLength="6.00" lengthAdjust="spacingAndGlyphs" stroke="#fff" stroke-width="0.45" stroke-linejoin="round" >K</text>
<text x="483.20" y="297.60" font-size="10.6" font-weight="bold" fill="#fff" textLength="14.00" lengthAdjust="spacingAndGlyphs" stroke="#fff" stroke-width="0.45" stroke-linejoin="round" >2.1</text>
<circle cx="426.30" cy="310.00" r="2.5" fill="#fff" stroke="#1a1a1a" stroke-width="1.25"/>
<rect x="425.35" y="306.10" width="1.90" height="1.30" fill="#1a1a1a" />
<rect x="425.35" y="312.60" width="1.90" height="1.10" fill="#1a1a1a" />
<path d="M426.30 308.70 V310.30 H427.40" stroke="#1a1a1a" stroke-width="0.8" fill="none"/>
<text x="443.40" y="314.40" font-size="11.2" font-weight="bold" fill="#151515" textLength="32.60" lengthAdjust="spacingAndGlyphs" stroke="#151515" stroke-width="0.45" stroke-linejoin="round" >0:00:03</text>
<path d="M524.20 309 a2.6 2.6 0 1 0 2.2 -1.3" fill="none" stroke="#222" stroke-width="1.1"/>
<polygon points="523.30,306.6 526.50,307 524.20,309.6" fill="#222"/>
<rect x="540.90" y="307.30" width="11.10" height="7.00" fill="#222" />
<rect x="542.20" y="308.60" width="8.50" height="4.40" fill="#fff" />
<rect x="543.70" y="310.00" width="5.50" height="1.60" fill="#222" />
<rect x="554.60" y="306.80" width="10.50" height="7.80" fill="#111" />
<rect x="565.10" y="308.30" width="1.30" height="4.80" fill="#111" />
<polygon points="557.60,308.00 563.90,308.00 563.90,313.40 562.10,313.40" fill="#fff"/>
<line x1="316.70" y1="321.20" x2="575.20" y2="321.20" stroke="#4a4a4a" stroke-width="1.3" stroke-dasharray="1.4 2.888"/>
<line x1="316.70" y1="395.00" x2="575.20" y2="395.00" stroke="#4a4a4a" stroke-width="1.3" stroke-dasharray="1.4 2.888"/>
<line x1="316.70" y1="467.60" x2="575.20" y2="467.60" stroke="#4a4a4a" stroke-width="1.3" stroke-dasharray="1.4 2.888"/>
<rect x="337.20" y="316.00" width="22.30" height="10.00" fill="#fff" />
<text x="338.40" y="325.20" font-size="10.8" font-weight="bold" fill="#151515" textLength="20.60" lengthAdjust="spacingAndGlyphs" stroke="#151515" stroke-width="0.45" stroke-linejoin="round" >100%</text>
<rect x="339.70" y="390.00" width="18.50" height="10.00" fill="#fff" />
<text x="340.90" y="399.00" font-size="10.8" font-weight="bold" fill="#151515" textLength="16.80" lengthAdjust="spacingAndGlyphs" stroke="#151515" stroke-width="0.45" stroke-linejoin="round" >50%</text>
<line x1="316.60" y1="326.00" x2="316.60" y2="467.00" stroke="#5c5c5c" stroke-width="1.25" />
<polygon points="312.00,325 315.90,321 315.90,329" fill="#111"/>
<polygon points="321.20,325 317.30,321 317.30,329" fill="#111"/>
<polygon points="316.60,392.5 318.70,395 316.60,397.5 314.50,395" fill="#111"/>
<line x1="316.70" y1="467.00" x2="316.70" y2="470.00" stroke="#111" stroke-width="1.1" />
<line x1="329.70" y1="467.00" x2="329.70" y2="470.00" stroke="#111" stroke-width="1.1" />
<line x1="358.70" y1="467.00" x2="358.70" y2="470.00" stroke="#111" stroke-width="1.1" />
<line x1="371.59" y1="467.00" x2="371.59" y2="470.00" stroke="#111" stroke-width="1.1" />
<line x1="384.48" y1="467.00" x2="384.48" y2="470.00" stroke="#111" stroke-width="1.1" />
<line x1="397.37" y1="467.00" x2="397.37" y2="470.00" stroke="#111" stroke-width="1.1" />
<line x1="410.26" y1="467.00" x2="410.26" y2="470.00" stroke="#111" stroke-width="1.1" />
<line x1="423.15" y1="467.00" x2="423.15" y2="470.00" stroke="#111" stroke-width="1.1" />
<line x1="436.04" y1="467.00" x2="436.04" y2="470.00" stroke="#111" stroke-width="1.1" />
<line x1="448.93" y1="467.00" x2="448.93" y2="470.00" stroke="#111" stroke-width="1.1" />
<line x1="461.82" y1="467.00" x2="461.82" y2="470.00" stroke="#111" stroke-width="1.1" />
<line x1="474.71" y1="467.00" x2="474.71" y2="470.00" stroke="#111" stroke-width="1.1" />
<line x1="487.60" y1="467.00" x2="487.60" y2="470.00" stroke="#111" stroke-width="1.1" />
<line x1="500.49" y1="467.00" x2="500.49" y2="470.00" stroke="#111" stroke-width="1.1" />
<line x1="513.38" y1="467.00" x2="513.38" y2="470.00" stroke="#111" stroke-width="1.1" />
<line x1="526.27" y1="467.00" x2="526.27" y2="470.00" stroke="#111" stroke-width="1.1" />
<line x1="539.16" y1="467.00" x2="539.16" y2="470.00" stroke="#111" stroke-width="1.1" />
<line x1="552.05" y1="467.00" x2="552.05" y2="470.00" stroke="#111" stroke-width="1.1" />
<line x1="564.94" y1="467.00" x2="564.94" y2="470.00" stroke="#111" stroke-width="1.1" />
<rect x="316.70" y="461.00" width="2.50" height="6.30" fill="#0a0a0a" />
<rect x="320.05" y="461.00" width="2.50" height="6.30" fill="#22dd22" />
<rect x="323.40" y="461.50" width="2.50" height="5.80" fill="#e0161e" />
<rect x="329.60" y="465.50" width="2.50" height="1.80" fill="#0a0a0a" />
<rect x="336.30" y="464.50" width="2.50" height="2.80" fill="#e0161e" />
<rect x="358.30" y="320.80" width="2.50" height="146.50" fill="#0a0a0a" />
<rect x="361.65" y="320.80" width="2.50" height="146.50" fill="#22dd22" />
<rect x="365.00" y="320.80" width="2.50" height="146.50" fill="#e0161e" />
<rect x="387.65" y="466.30" width="2.50" height="1.00" fill="#22dd22" />
<rect x="391.00" y="466.00" width="2.50" height="1.30" fill="#e0161e" />
<rect x="412.95" y="466.00" width="2.50" height="1.30" fill="#22dd22" />
<rect x="416.30" y="466.00" width="2.50" height="1.30" fill="#e0161e" />
<rect x="439.15" y="466.30" width="2.50" height="1.00" fill="#22dd22" />
<rect x="442.50" y="466.30" width="2.50" height="1.00" fill="#e0161e" />
<rect x="464.65" y="466.50" width="2.50" height="0.80" fill="#22dd22" />
<rect x="468.00" y="466.50" width="2.50" height="0.80" fill="#e0161e" />
<rect x="490.45" y="466.40" width="2.50" height="0.90" fill="#22dd22" />
<rect x="493.80" y="466.20" width="2.50" height="1.10" fill="#e0161e" />
<rect x="516.25" y="466.50" width="2.50" height="0.80" fill="#22dd22" />
<rect x="519.60" y="466.30" width="2.50" height="1.00" fill="#e0161e" />
<rect x="542.05" y="466.30" width="2.50" height="1.00" fill="#22dd22" />
<rect x="545.40" y="466.50" width="2.50" height="0.80" fill="#e0161e" />
<rect x="567.85" y="466.50" width="2.50" height="0.80" fill="#22dd22" />
<rect x="571.20" y="466.00" width="2.50" height="1.30" fill="#e0161e" />
<text x="314.10" y="480.60" font-size="11.2" font-weight="bold" fill="#151515" textLength="29.30" lengthAdjust="spacingAndGlyphs" stroke="#151515" stroke-width="0.45" stroke-linejoin="round" >THDDC</text>
<text x="356.60" y="480.60" font-size="11.2" font-weight="bold" fill="#151515" textLength="3.40" lengthAdjust="spacingAndGlyphs" stroke="#151515" stroke-width="0.45" stroke-linejoin="round" >1</text>
<text x="381.70" y="480.60" font-size="11.2" font-weight="bold" fill="#151515" textLength="5.00" lengthAdjust="spacingAndGlyphs" stroke="#151515" stroke-width="0.45" stroke-linejoin="round" >3</text>
<text x="407.50" y="480.60" font-size="11.2" font-weight="bold" fill="#151515" textLength="5.00" lengthAdjust="spacingAndGlyphs" stroke="#151515" stroke-width="0.45" stroke-linejoin="round" >5</text>
<text x="433.50" y="480.60" font-size="11.2" font-weight="bold" fill="#151515" textLength="5.00" lengthAdjust="spacingAndGlyphs" stroke="#151515" stroke-width="0.45" stroke-linejoin="round" >7</text>
<text x="459.50" y="480.60" font-size="11.2" font-weight="bold" fill="#151515" textLength="4.80" lengthAdjust="spacingAndGlyphs" stroke="#151515" stroke-width="0.45" stroke-linejoin="round" >9</text>
<text x="484.30" y="480.60" font-size="11.2" font-weight="bold" fill="#151515" textLength="7.60" lengthAdjust="spacingAndGlyphs" stroke="#151515" stroke-width="0.45" stroke-linejoin="round" >11</text>
<text x="509.10" y="480.60" font-size="11.2" font-weight="bold" fill="#151515" textLength="9.40" lengthAdjust="spacingAndGlyphs" stroke="#151515" stroke-width="0.45" stroke-linejoin="round" >13</text>
<text x="534.70" y="480.60" font-size="11.2" font-weight="bold" fill="#151515" textLength="9.50" lengthAdjust="spacingAndGlyphs" stroke="#151515" stroke-width="0.45" stroke-linejoin="round" >15</text>
<text x="560.70" y="480.60" font-size="11.2" font-weight="bold" fill="#151515" textLength="9.00" lengthAdjust="spacingAndGlyphs" stroke="#151515" stroke-width="0.45" stroke-linejoin="round" >17</text>
<text x="317.10" y="497.20" font-size="11.2" font-weight="bold" fill="#151515" textLength="39.10" lengthAdjust="spacingAndGlyphs" stroke="#151515" stroke-width="0.45" stroke-linejoin="round" >09/04/09</text>
<text x="362.50" y="497.20" font-size="11.2" font-weight="bold" fill="#151515" textLength="37.00" lengthAdjust="spacingAndGlyphs" stroke="#151515" stroke-width="0.45" stroke-linejoin="round" >12:04:37</text>
<text x="420.40" y="497.20" font-size="11.2" font-weight="bold" fill="#151515" textLength="21.00" lengthAdjust="spacingAndGlyphs" stroke="#151515" stroke-width="0.45" stroke-linejoin="round" >230V</text>
<text x="448.90" y="497.20" font-size="11.2" font-weight="bold" fill="#151515" textLength="20.30" lengthAdjust="spacingAndGlyphs" stroke="#151515" stroke-width="0.45" stroke-linejoin="round" >50Hz</text>
<text x="471.20" y="497.20" font-size="11.2" font-weight="bold" fill="#151515" textLength="11.00" lengthAdjust="spacingAndGlyphs" stroke="#151515" stroke-width="0.45" stroke-linejoin="round" >3Ø</text>
<text x="485.70" y="497.20" font-size="11.2" font-weight="bold" fill="#151515" textLength="20.30" lengthAdjust="spacingAndGlyphs" stroke="#151515" stroke-width="0.45" stroke-linejoin="round" >WYE</text>
<text x="522.20" y="497.20" font-size="11.2" font-weight="bold" fill="#151515" textLength="36.30" lengthAdjust="spacingAndGlyphs" stroke="#151515" stroke-width="0.45" stroke-linejoin="round" >EN50160</text>
<rect x="311.10" y="502.00" width="270.40" height="24.30" fill="#5a8cd2" />
<line x1="362.20" y1="502.00" x2="362.20" y2="526.30" stroke="#1f4f98" stroke-width="1.3" />
<line x1="417.20" y1="502.00" x2="417.20" y2="526.30" stroke="#1f4f98" stroke-width="1.3" />
<line x1="473.45" y1="502.00" x2="473.45" y2="526.30" stroke="#1f4f98" stroke-width="1.3" />
<line x1="528.45" y1="502.00" x2="528.45" y2="526.30" stroke="#1f4f98" stroke-width="1.3" />
<text x="319.80" y="518.70" font-size="10.4" font-weight="bold" fill="#e6efff" textLength="5.40" lengthAdjust="spacingAndGlyphs" stroke="#e6efff" stroke-width="0.45" stroke-linejoin="round" >V</text>
<rect x="330.80" y="508.80" width="9.00" height="10.70" fill="#0a0a0a" />
<text x="332.70" y="518.70" font-size="10.4" font-weight="bold" fill="#fff" textLength="5.40" lengthAdjust="spacingAndGlyphs" stroke="#fff" stroke-width="0.45" stroke-linejoin="round" >A</text>
<text x="346.00" y="518.70" font-size="10.4" font-weight="bold" fill="#e6efff" textLength="7.20" lengthAdjust="spacingAndGlyphs" stroke="#e6efff" stroke-width="0.45" stroke-linejoin="round" >W</text>
<text x="366.70" y="512.20" font-size="10.4" font-weight="bold" fill="#e6efff" textLength="10.50" lengthAdjust="spacingAndGlyphs" stroke="#e6efff" stroke-width="0.45" stroke-linejoin="round" >L1</text>
<text x="383.70" y="512.20" font-size="10.4" font-weight="bold" fill="#e6efff" textLength="11.50" lengthAdjust="spacingAndGlyphs" stroke="#e6efff" stroke-width="0.45" stroke-linejoin="round" >L2</text>
<text x="401.70" y="512.20" font-size="10.4" font-weight="bold" fill="#e6efff" textLength="11.50" lengthAdjust="spacingAndGlyphs" stroke="#e6efff" stroke-width="0.45" stroke-linejoin="round" >L3</text>
<text x="372.20" y="523.30" font-size="10.4" font-weight="bold" fill="#e6efff" textLength="6.00" lengthAdjust="spacingAndGlyphs" stroke="#e6efff" stroke-width="0.45" stroke-linejoin="round" >N</text>
<rect x="389.20" y="514.40" width="26.10" height="10.00" fill="#0a0a0a" />
<text x="393.70" y="523.30" font-size="10.4" font-weight="bold" fill="#fff" textLength="17.00" lengthAdjust="spacingAndGlyphs" stroke="#fff" stroke-width="0.45" stroke-linejoin="round" >ALL</text>
<text x="429.20" y="518.50" font-size="10.4" font-weight="bold" fill="#e6efff" textLength="32.50" lengthAdjust="spacingAndGlyphs" stroke="#e6efff" stroke-width="0.45" stroke-linejoin="round" >METER</text>
<text x="480.70" y="512.20" font-size="10.4" font-weight="bold" fill="#e6efff" textLength="37.50" lengthAdjust="spacingAndGlyphs" stroke="#e6efff" stroke-width="0.45" stroke-linejoin="round" >I-HARM.</text>
<text x="479.20" y="523.30" font-size="10.4" font-weight="bold" fill="#e6efff" textLength="11.50" lengthAdjust="spacingAndGlyphs" stroke="#e6efff" stroke-width="0.45" stroke-linejoin="round" >ON</text>
<rect x="496.70" y="514.40" width="29.30" height="10.00" fill="#0a0a0a" />
<text x="502.20" y="523.30" font-size="10.4" font-weight="bold" fill="#fff" textLength="18.50" lengthAdjust="spacingAndGlyphs" stroke="#fff" stroke-width="0.45" stroke-linejoin="round" >OFF</text>
<text x="544.70" y="512.20" font-size="10.4" font-weight="bold" fill="#e6efff" textLength="23.70" lengthAdjust="spacingAndGlyphs" stroke="#e6efff" stroke-width="0.45" stroke-linejoin="round" >HOLD</text>
<rect x="544.30" y="514.40" width="25.90" height="10.00" fill="#0a0a0a" />
<text x="548.20" y="523.30" font-size="10.4" font-weight="bold" fill="#fff" textLength="18.00" lengthAdjust="spacingAndGlyphs" stroke="#fff" stroke-width="0.45" stroke-linejoin="round" >RUN</text>
<text x="71.6" y="550.4" font-size="15.2" fill="#181c8c" stroke="#181c8c" stroke-width="0.25" textLength="152.3" font-family="'Liberation Sans', 'Noto Sans CJK SC', sans-serif">治理前电流波形与THD</text>
<text x="374.2" y="548.5" font-size="15.2" fill="#181c8c" stroke="#181c8c" stroke-width="0.25" textLength="152.3" font-family="'Liberation Sans', 'Noto Sans CJK SC', sans-serif">治理后电流波形与THD</text>
</svg>
</body></html>
